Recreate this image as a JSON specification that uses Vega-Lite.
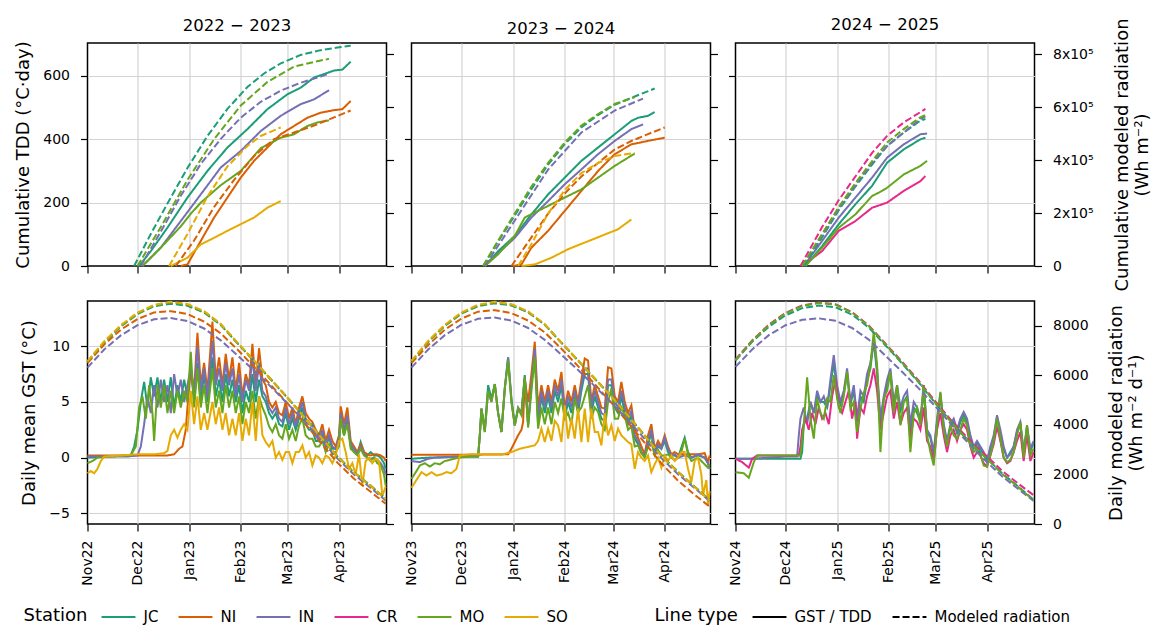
{
"$schema":"https://vega.github.io/schema/vega-lite/v6.json",
"background":"white",
"padding":{"left":12.5,"top":16,"right":0,"bottom":0},
"columns":3,
"spacing":{"row":35,"column":25},
"bounds":"flush",
"datasets":{
"g":[
{"p":1,"s":"JC","t":0,"v":0},{"p":1,"s":"JC","t":12,"v":0.1},{"p":1,"s":"JC","t":26,"v":0.2},{"p":1,"s":"JC","t":28,"v":1},{"p":1,"s":"JC","t":30,"v":2.5},{"p":1,"s":"JC","t":32,"v":5},{"p":1,"s":"JC","t":34,"v":6.8},{"p":1,"s":"JC","t":36,"v":4.5},{"p":1,"s":"JC","t":38,"v":7.2},{"p":1,"s":"JC","t":40,"v":5.5},{"p":1,"s":"JC","t":42,"v":7.2},{"p":1,"s":"JC","t":44,"v":5},{"p":1,"s":"JC","t":46,"v":7},{"p":1,"s":"JC","t":48,"v":5},{"p":1,"s":"JC","t":50,"v":7.2},{"p":1,"s":"JC","t":52,"v":4.5},{"p":1,"s":"JC","t":54,"v":6.5},{"p":1,"s":"JC","t":56,"v":5},{"p":1,"s":"JC","t":58,"v":7},{"p":1,"s":"JC","t":60,"v":5.5},{"p":1,"s":"JC","t":62,"v":8},{"p":1,"s":"JC","t":64,"v":5},{"p":1,"s":"JC","t":66,"v":8.5},{"p":1,"s":"JC","t":68,"v":5},{"p":1,"s":"JC","t":70,"v":7.5},{"p":1,"s":"JC","t":72,"v":5},{"p":1,"s":"JC","t":75,"v":9},{"p":1,"s":"JC","t":77,"v":5.5},{"p":1,"s":"JC","t":79,"v":7},{"p":1,"s":"JC","t":81,"v":5},{"p":1,"s":"JC","t":83,"v":7.5},{"p":1,"s":"JC","t":85,"v":5.5},{"p":1,"s":"JC","t":87,"v":7},{"p":1,"s":"JC","t":89,"v":5},{"p":1,"s":"JC","t":91,"v":6.5},{"p":1,"s":"JC","t":93,"v":4},{"p":1,"s":"JC","t":95,"v":6},{"p":1,"s":"JC","t":97,"v":5},{"p":1,"s":"JC","t":99,"v":7.5},{"p":1,"s":"JC","t":101,"v":5},{"p":1,"s":"JC","t":103,"v":7},{"p":1,"s":"JC","t":105,"v":5.5},{"p":1,"s":"JC","t":107,"v":5},{"p":1,"s":"JC","t":109,"v":4},{"p":1,"s":"JC","t":111,"v":3.5},{"p":1,"s":"JC","t":113,"v":4},{"p":1,"s":"JC","t":115,"v":3},{"p":1,"s":"JC","t":117,"v":2.8},{"p":1,"s":"JC","t":119,"v":4},{"p":1,"s":"JC","t":121,"v":2.5},{"p":1,"s":"JC","t":123,"v":3.5},{"p":1,"s":"JC","t":125,"v":2.5},{"p":1,"s":"JC","t":127,"v":3.5},{"p":1,"s":"JC","t":129,"v":4.5},{"p":1,"s":"JC","t":131,"v":3},{"p":1,"s":"JC","t":133,"v":2.5},{"p":1,"s":"JC","t":135,"v":2.5},{"p":1,"s":"JC","t":137,"v":1.5},{"p":1,"s":"JC","t":139,"v":1.5},{"p":1,"s":"JC","t":141,"v":2},{"p":1,"s":"JC","t":143,"v":1},{"p":1,"s":"JC","t":145,"v":1.8},{"p":1,"s":"JC","t":147,"v":0.8},{"p":1,"s":"JC","t":149,"v":0.8},{"p":1,"s":"JC","t":151,"v":1.5},{"p":1,"s":"JC","t":152,"v":3.5},{"p":1,"s":"JC","t":154,"v":2},{"p":1,"s":"JC","t":156,"v":3.5},{"p":1,"s":"JC","t":158,"v":1},{"p":1,"s":"JC","t":160,"v":0.5},{"p":1,"s":"JC","t":162,"v":0.3},{"p":1,"s":"JC","t":164,"v":1.4},{"p":1,"s":"JC","t":166,"v":0.5},{"p":1,"s":"JC","t":168,"v":0.2},{"p":1,"s":"JC","t":170,"v":0.5},{"p":1,"s":"JC","t":172,"v":0.2},{"p":1,"s":"JC","t":174,"v":0.2},{"p":1,"s":"JC","t":176,"v":0},{"p":1,"s":"JC","t":178,"v":-0.5},{"p":1,"s":"JC","t":179,"v":-1},
{"p":1,"s":"NI","t":0,"v":0.2},{"p":1,"s":"NI","t":12,"v":0.2},{"p":1,"s":"NI","t":24,"v":0.2},{"p":1,"s":"NI","t":36,"v":0.2},{"p":1,"s":"NI","t":48,"v":0.2},{"p":1,"s":"NI","t":52,"v":0.3},{"p":1,"s":"NI","t":55,"v":0.8},{"p":1,"s":"NI","t":57,"v":1},{"p":1,"s":"NI","t":59,"v":2.5},{"p":1,"s":"NI","t":60,"v":4.5},{"p":1,"s":"NI","t":62,"v":8},{"p":1,"s":"NI","t":64,"v":6},{"p":1,"s":"NI","t":66,"v":11.2},{"p":1,"s":"NI","t":68,"v":6.5},{"p":1,"s":"NI","t":70,"v":8.5},{"p":1,"s":"NI","t":72,"v":6},{"p":1,"s":"NI","t":75,"v":12.2},{"p":1,"s":"NI","t":77,"v":7},{"p":1,"s":"NI","t":79,"v":9},{"p":1,"s":"NI","t":81,"v":6.5},{"p":1,"s":"NI","t":83,"v":9.3},{"p":1,"s":"NI","t":85,"v":7},{"p":1,"s":"NI","t":87,"v":9},{"p":1,"s":"NI","t":89,"v":6},{"p":1,"s":"NI","t":91,"v":8.5},{"p":1,"s":"NI","t":93,"v":5.5},{"p":1,"s":"NI","t":95,"v":7.5},{"p":1,"s":"NI","t":97,"v":6.5},{"p":1,"s":"NI","t":99,"v":10.2},{"p":1,"s":"NI","t":101,"v":6.5},{"p":1,"s":"NI","t":103,"v":9.8},{"p":1,"s":"NI","t":105,"v":7},{"p":1,"s":"NI","t":107,"v":6.5},{"p":1,"s":"NI","t":109,"v":5},{"p":1,"s":"NI","t":111,"v":4.5},{"p":1,"s":"NI","t":113,"v":5},{"p":1,"s":"NI","t":115,"v":4},{"p":1,"s":"NI","t":117,"v":3.8},{"p":1,"s":"NI","t":119,"v":5},{"p":1,"s":"NI","t":121,"v":3.5},{"p":1,"s":"NI","t":123,"v":4.5},{"p":1,"s":"NI","t":125,"v":3},{"p":1,"s":"NI","t":127,"v":4.5},{"p":1,"s":"NI","t":129,"v":5.5},{"p":1,"s":"NI","t":131,"v":4},{"p":1,"s":"NI","t":133,"v":3.5},{"p":1,"s":"NI","t":135,"v":3.2},{"p":1,"s":"NI","t":137,"v":2.5},{"p":1,"s":"NI","t":139,"v":2},{"p":1,"s":"NI","t":141,"v":3},{"p":1,"s":"NI","t":143,"v":1.5},{"p":1,"s":"NI","t":145,"v":2.5},{"p":1,"s":"NI","t":147,"v":1.5},{"p":1,"s":"NI","t":149,"v":1},{"p":1,"s":"NI","t":151,"v":2},{"p":1,"s":"NI","t":152,"v":4.6},{"p":1,"s":"NI","t":154,"v":3},{"p":1,"s":"NI","t":156,"v":4.5},{"p":1,"s":"NI","t":158,"v":1.5},{"p":1,"s":"NI","t":160,"v":1},{"p":1,"s":"NI","t":162,"v":0.5},{"p":1,"s":"NI","t":164,"v":1.2},{"p":1,"s":"NI","t":166,"v":0.5},{"p":1,"s":"NI","t":168,"v":0.3},{"p":1,"s":"NI","t":170,"v":0.2},{"p":1,"s":"NI","t":172,"v":0.3},{"p":1,"s":"NI","t":174,"v":0.3},{"p":1,"s":"NI","t":176,"v":0.2},{"p":1,"s":"NI","t":178,"v":0},{"p":1,"s":"NI","t":179,"v":-0.3},
{"p":1,"s":"IN","t":0,"v":0.1},{"p":1,"s":"IN","t":12,"v":0.1},{"p":1,"s":"IN","t":24,"v":0.1},{"p":1,"s":"IN","t":30,"v":0.2},{"p":1,"s":"IN","t":32,"v":1},{"p":1,"s":"IN","t":34,"v":3},{"p":1,"s":"IN","t":36,"v":5.5},{"p":1,"s":"IN","t":38,"v":4},{"p":1,"s":"IN","t":40,"v":6.5},{"p":1,"s":"IN","t":42,"v":4.5},{"p":1,"s":"IN","t":44,"v":7},{"p":1,"s":"IN","t":46,"v":5},{"p":1,"s":"IN","t":48,"v":6.5},{"p":1,"s":"IN","t":50,"v":4},{"p":1,"s":"IN","t":52,"v":7.5},{"p":1,"s":"IN","t":54,"v":5.5},{"p":1,"s":"IN","t":56,"v":7},{"p":1,"s":"IN","t":58,"v":5},{"p":1,"s":"IN","t":60,"v":6.5},{"p":1,"s":"IN","t":62,"v":8},{"p":1,"s":"IN","t":64,"v":5.5},{"p":1,"s":"IN","t":66,"v":10},{"p":1,"s":"IN","t":68,"v":6},{"p":1,"s":"IN","t":70,"v":8},{"p":1,"s":"IN","t":72,"v":5.5},{"p":1,"s":"IN","t":75,"v":10.5},{"p":1,"s":"IN","t":77,"v":6.5},{"p":1,"s":"IN","t":79,"v":8},{"p":1,"s":"IN","t":81,"v":6},{"p":1,"s":"IN","t":83,"v":8.5},{"p":1,"s":"IN","t":85,"v":6.5},{"p":1,"s":"IN","t":87,"v":8},{"p":1,"s":"IN","t":89,"v":5.5},{"p":1,"s":"IN","t":91,"v":7.5},{"p":1,"s":"IN","t":93,"v":5},{"p":1,"s":"IN","t":95,"v":7},{"p":1,"s":"IN","t":97,"v":6},{"p":1,"s":"IN","t":99,"v":9},{"p":1,"s":"IN","t":101,"v":6},{"p":1,"s":"IN","t":103,"v":8.5},{"p":1,"s":"IN","t":105,"v":6},{"p":1,"s":"IN","t":107,"v":5.5},{"p":1,"s":"IN","t":109,"v":4.5},{"p":1,"s":"IN","t":111,"v":4},{"p":1,"s":"IN","t":113,"v":4.5},{"p":1,"s":"IN","t":115,"v":3.5},{"p":1,"s":"IN","t":117,"v":3.2},{"p":1,"s":"IN","t":119,"v":4.5},{"p":1,"s":"IN","t":121,"v":3},{"p":1,"s":"IN","t":123,"v":4},{"p":1,"s":"IN","t":125,"v":2.8},{"p":1,"s":"IN","t":127,"v":4},{"p":1,"s":"IN","t":129,"v":5},{"p":1,"s":"IN","t":131,"v":3.5},{"p":1,"s":"IN","t":133,"v":3},{"p":1,"s":"IN","t":135,"v":3},{"p":1,"s":"IN","t":137,"v":2},{"p":1,"s":"IN","t":139,"v":1.5},{"p":1,"s":"IN","t":141,"v":2.5},{"p":1,"s":"IN","t":143,"v":1},{"p":1,"s":"IN","t":145,"v":2},{"p":1,"s":"IN","t":147,"v":1},{"p":1,"s":"IN","t":149,"v":0.8},{"p":1,"s":"IN","t":151,"v":1.8},{"p":1,"s":"IN","t":152,"v":4},{"p":1,"s":"IN","t":154,"v":2.5},{"p":1,"s":"IN","t":156,"v":3.8},{"p":1,"s":"IN","t":158,"v":1.2},{"p":1,"s":"IN","t":160,"v":0.8},{"p":1,"s":"IN","t":162,"v":0.3},{"p":1,"s":"IN","t":164,"v":1},{"p":1,"s":"IN","t":166,"v":0.3},{"p":1,"s":"IN","t":168,"v":0},{"p":1,"s":"IN","t":170,"v":-0.1},{"p":1,"s":"IN","t":172,"v":0},{"p":1,"s":"IN","t":174,"v":-0.2},{"p":1,"s":"IN","t":176,"v":-0.5},{"p":1,"s":"IN","t":178,"v":-1},{"p":1,"s":"IN","t":179,"v":-1.5},
{"p":1,"s":"MO","t":0,"v":-0.5},{"p":1,"s":"MO","t":3,"v":-0.3},{"p":1,"s":"MO","t":6,"v":0},{"p":1,"s":"MO","t":12,"v":0.1},{"p":1,"s":"MO","t":26,"v":0.2},{"p":1,"s":"MO","t":29,"v":1},{"p":1,"s":"MO","t":31,"v":4.5},{"p":1,"s":"MO","t":33,"v":5.5},{"p":1,"s":"MO","t":35,"v":3.5},{"p":1,"s":"MO","t":37,"v":6.5},{"p":1,"s":"MO","t":39,"v":4},{"p":1,"s":"MO","t":40,"v":1.5},{"p":1,"s":"MO","t":42,"v":6.5},{"p":1,"s":"MO","t":44,"v":4.5},{"p":1,"s":"MO","t":46,"v":6.5},{"p":1,"s":"MO","t":48,"v":4},{"p":1,"s":"MO","t":50,"v":6},{"p":1,"s":"MO","t":52,"v":4},{"p":1,"s":"MO","t":54,"v":6},{"p":1,"s":"MO","t":56,"v":4.5},{"p":1,"s":"MO","t":58,"v":6},{"p":1,"s":"MO","t":60,"v":5},{"p":1,"s":"MO","t":62,"v":9.5},{"p":1,"s":"MO","t":64,"v":4.5},{"p":1,"s":"MO","t":66,"v":8},{"p":1,"s":"MO","t":68,"v":4.5},{"p":1,"s":"MO","t":70,"v":6.5},{"p":1,"s":"MO","t":72,"v":4},{"p":1,"s":"MO","t":75,"v":8},{"p":1,"s":"MO","t":77,"v":4.5},{"p":1,"s":"MO","t":79,"v":6},{"p":1,"s":"MO","t":81,"v":4},{"p":1,"s":"MO","t":83,"v":6.5},{"p":1,"s":"MO","t":85,"v":4.5},{"p":1,"s":"MO","t":87,"v":6},{"p":1,"s":"MO","t":89,"v":4},{"p":1,"s":"MO","t":91,"v":5.5},{"p":1,"s":"MO","t":93,"v":3},{"p":1,"s":"MO","t":95,"v":5},{"p":1,"s":"MO","t":97,"v":4},{"p":1,"s":"MO","t":99,"v":6},{"p":1,"s":"MO","t":101,"v":3.5},{"p":1,"s":"MO","t":103,"v":5.5},{"p":1,"s":"MO","t":105,"v":4.5},{"p":1,"s":"MO","t":107,"v":3.8},{"p":1,"s":"MO","t":109,"v":2.8},{"p":1,"s":"MO","t":111,"v":2.3},{"p":1,"s":"MO","t":113,"v":3},{"p":1,"s":"MO","t":115,"v":2},{"p":1,"s":"MO","t":117,"v":1.7},{"p":1,"s":"MO","t":119,"v":3},{"p":1,"s":"MO","t":121,"v":1.7},{"p":1,"s":"MO","t":123,"v":2.5},{"p":1,"s":"MO","t":125,"v":1.5},{"p":1,"s":"MO","t":127,"v":2.9},{"p":1,"s":"MO","t":129,"v":3.5},{"p":1,"s":"MO","t":131,"v":2},{"p":1,"s":"MO","t":133,"v":1.7},{"p":1,"s":"MO","t":135,"v":1.7},{"p":1,"s":"MO","t":137,"v":1},{"p":1,"s":"MO","t":139,"v":1},{"p":1,"s":"MO","t":141,"v":1.5},{"p":1,"s":"MO","t":143,"v":0.5},{"p":1,"s":"MO","t":145,"v":1.2},{"p":1,"s":"MO","t":147,"v":0.3},{"p":1,"s":"MO","t":149,"v":0.5},{"p":1,"s":"MO","t":151,"v":1},{"p":1,"s":"MO","t":152,"v":3.5},{"p":1,"s":"MO","t":154,"v":2},{"p":1,"s":"MO","t":156,"v":3},{"p":1,"s":"MO","t":158,"v":0.8},{"p":1,"s":"MO","t":160,"v":0.5},{"p":1,"s":"MO","t":162,"v":0.2},{"p":1,"s":"MO","t":164,"v":0.8},{"p":1,"s":"MO","t":166,"v":0.2},{"p":1,"s":"MO","t":168,"v":0},{"p":1,"s":"MO","t":170,"v":-0.3},{"p":1,"s":"MO","t":172,"v":0},{"p":1,"s":"MO","t":174,"v":-0.5},{"p":1,"s":"MO","t":176,"v":-0.7},{"p":1,"s":"MO","t":178,"v":-1.5},{"p":1,"s":"MO","t":179,"v":-2.5},
{"p":1,"s":"SO","t":0,"v":-1.4},{"p":1,"s":"SO","t":2,"v":-1.2},{"p":1,"s":"SO","t":4,"v":-1.4},{"p":1,"s":"SO","t":6,"v":-1},{"p":1,"s":"SO","t":8,"v":-0.3},{"p":1,"s":"SO","t":10,"v":0.1},{"p":1,"s":"SO","t":20,"v":0.2},{"p":1,"s":"SO","t":30,"v":0.3},{"p":1,"s":"SO","t":40,"v":0.3},{"p":1,"s":"SO","t":46,"v":0.4},{"p":1,"s":"SO","t":48,"v":0.6},{"p":1,"s":"SO","t":50,"v":2},{"p":1,"s":"SO","t":52,"v":2.5},{"p":1,"s":"SO","t":54,"v":1.8},{"p":1,"s":"SO","t":56,"v":2.5},{"p":1,"s":"SO","t":58,"v":3},{"p":1,"s":"SO","t":60,"v":2.5},{"p":1,"s":"SO","t":62,"v":6},{"p":1,"s":"SO","t":64,"v":3},{"p":1,"s":"SO","t":66,"v":5.5},{"p":1,"s":"SO","t":68,"v":2.5},{"p":1,"s":"SO","t":70,"v":4},{"p":1,"s":"SO","t":72,"v":2.5},{"p":1,"s":"SO","t":75,"v":5},{"p":1,"s":"SO","t":77,"v":3},{"p":1,"s":"SO","t":79,"v":4.5},{"p":1,"s":"SO","t":81,"v":2.5},{"p":1,"s":"SO","t":83,"v":4},{"p":1,"s":"SO","t":85,"v":2},{"p":1,"s":"SO","t":87,"v":3.5},{"p":1,"s":"SO","t":89,"v":2},{"p":1,"s":"SO","t":91,"v":4},{"p":1,"s":"SO","t":93,"v":1.5},{"p":1,"s":"SO","t":95,"v":3.5},{"p":1,"s":"SO","t":97,"v":2},{"p":1,"s":"SO","t":99,"v":5},{"p":1,"s":"SO","t":101,"v":1.5},{"p":1,"s":"SO","t":103,"v":5.5},{"p":1,"s":"SO","t":105,"v":2},{"p":1,"s":"SO","t":107,"v":1.4},{"p":1,"s":"SO","t":109,"v":1},{"p":1,"s":"SO","t":111,"v":1.5},{"p":1,"s":"SO","t":113,"v":0},{"p":1,"s":"SO","t":115,"v":0.5},{"p":1,"s":"SO","t":117,"v":-0.2},{"p":1,"s":"SO","t":119,"v":0.5},{"p":1,"s":"SO","t":121,"v":0.5},{"p":1,"s":"SO","t":123,"v":-0.5},{"p":1,"s":"SO","t":125,"v":0.5},{"p":1,"s":"SO","t":127,"v":0.5},{"p":1,"s":"SO","t":129,"v":1.1},{"p":1,"s":"SO","t":131,"v":0},{"p":1,"s":"SO","t":133,"v":0.5},{"p":1,"s":"SO","t":135,"v":-0.7},{"p":1,"s":"SO","t":137,"v":0.2},{"p":1,"s":"SO","t":139,"v":0},{"p":1,"s":"SO","t":141,"v":-0.5},{"p":1,"s":"SO","t":143,"v":0.2},{"p":1,"s":"SO","t":145,"v":0},{"p":1,"s":"SO","t":147,"v":-0.5},{"p":1,"s":"SO","t":149,"v":0.2},{"p":1,"s":"SO","t":151,"v":1.5},{"p":1,"s":"SO","t":153,"v":1.7},{"p":1,"s":"SO","t":155,"v":0.5},{"p":1,"s":"SO","t":157,"v":-1},{"p":1,"s":"SO","t":159,"v":-0.5},{"p":1,"s":"SO","t":161,"v":-1.5},{"p":1,"s":"SO","t":163,"v":0.3},{"p":1,"s":"SO","t":165,"v":-2.5},{"p":1,"s":"SO","t":167,"v":-0.3},{"p":1,"s":"SO","t":169,"v":0},{"p":1,"s":"SO","t":171,"v":-0.5},{"p":1,"s":"SO","t":173,"v":-0.1},{"p":1,"s":"SO","t":175,"v":-0.3},{"p":1,"s":"SO","t":177,"v":-3.4},{"p":1,"s":"SO","t":179,"v":-2.6},
{"p":2,"s":"JC","t":0,"v":-0.1},{"p":2,"s":"JC","t":10,"v":0},{"p":2,"s":"JC","t":30,"v":0.1},{"p":2,"s":"JC","t":40,"v":0.1},{"p":2,"s":"JC","t":41,"v":2},{"p":2,"s":"JC","t":42,"v":4.4},{"p":2,"s":"JC","t":44,"v":2.5},{"p":2,"s":"JC","t":46,"v":6.5},{"p":2,"s":"JC","t":48,"v":5.3},{"p":2,"s":"JC","t":50,"v":6.6},{"p":2,"s":"JC","t":52,"v":4},{"p":2,"s":"JC","t":54,"v":2.3},{"p":2,"s":"JC","t":56,"v":6.2},{"p":2,"s":"JC","t":58,"v":9},{"p":2,"s":"JC","t":60,"v":5.3},{"p":2,"s":"JC","t":62,"v":2.9},{"p":2,"s":"JC","t":64,"v":4.4},{"p":2,"s":"JC","t":66,"v":4},{"p":2,"s":"JC","t":68,"v":7.4},{"p":2,"s":"JC","t":70,"v":2.9},{"p":2,"s":"JC","t":72,"v":6.6},{"p":2,"s":"JC","t":74,"v":9.5},{"p":2,"s":"JC","t":76,"v":2.9},{"p":2,"s":"JC","t":78,"v":5.5},{"p":2,"s":"JC","t":80,"v":4},{"p":2,"s":"JC","t":82,"v":5.5},{"p":2,"s":"JC","t":84,"v":4},{"p":2,"s":"JC","t":86,"v":6},{"p":2,"s":"JC","t":88,"v":5},{"p":2,"s":"JC","t":90,"v":6.5},{"p":2,"s":"JC","t":92,"v":3.5},{"p":2,"s":"JC","t":94,"v":5},{"p":2,"s":"JC","t":96,"v":4},{"p":2,"s":"JC","t":98,"v":5.5},{"p":2,"s":"JC","t":100,"v":4},{"p":2,"s":"JC","t":102,"v":6},{"p":2,"s":"JC","t":104,"v":7.5},{"p":2,"s":"JC","t":106,"v":7.5},{"p":2,"s":"JC","t":108,"v":4},{"p":2,"s":"JC","t":110,"v":5.5},{"p":2,"s":"JC","t":112,"v":4.5},{"p":2,"s":"JC","t":114,"v":3.5},{"p":2,"s":"JC","t":116,"v":3.3},{"p":2,"s":"JC","t":118,"v":6.5},{"p":2,"s":"JC","t":120,"v":6.5},{"p":2,"s":"JC","t":122,"v":4.5},{"p":2,"s":"JC","t":124,"v":4},{"p":2,"s":"JC","t":126,"v":5.5},{"p":2,"s":"JC","t":128,"v":4},{"p":2,"s":"JC","t":130,"v":3},{"p":2,"s":"JC","t":132,"v":3.8},{"p":2,"s":"JC","t":134,"v":1.7},{"p":2,"s":"JC","t":136,"v":1.2},{"p":2,"s":"JC","t":138,"v":0.4},{"p":2,"s":"JC","t":140,"v":0.2},{"p":2,"s":"JC","t":142,"v":1.2},{"p":2,"s":"JC","t":144,"v":2.2},{"p":2,"s":"JC","t":146,"v":0.4},{"p":2,"s":"JC","t":148,"v":1},{"p":2,"s":"JC","t":150,"v":0.8},{"p":2,"s":"JC","t":152,"v":1.5},{"p":2,"s":"JC","t":154,"v":0.5},{"p":2,"s":"JC","t":156,"v":0.2},{"p":2,"s":"JC","t":158,"v":0.2},{"p":2,"s":"JC","t":160,"v":0},{"p":2,"s":"JC","t":164,"v":1.8},{"p":2,"s":"JC","t":166,"v":0.5},{"p":2,"s":"JC","t":168,"v":0},{"p":2,"s":"JC","t":172,"v":0.2},{"p":2,"s":"JC","t":176,"v":0},{"p":2,"s":"JC","t":178,"v":-0.5},{"p":2,"s":"JC","t":179,"v":-1},
{"p":2,"s":"NI","t":0,"v":0.25},{"p":2,"s":"NI","t":30,"v":0.25},{"p":2,"s":"NI","t":58,"v":0.3},{"p":2,"s":"NI","t":60,"v":0.8},{"p":2,"s":"NI","t":62,"v":1.4},{"p":2,"s":"NI","t":64,"v":2},{"p":2,"s":"NI","t":66,"v":2.5},{"p":2,"s":"NI","t":67,"v":3.2},{"p":2,"s":"NI","t":68,"v":7},{"p":2,"s":"NI","t":70,"v":5},{"p":2,"s":"NI","t":72,"v":7.5},{"p":2,"s":"NI","t":74,"v":10.4},{"p":2,"s":"NI","t":76,"v":4.5},{"p":2,"s":"NI","t":78,"v":6.5},{"p":2,"s":"NI","t":80,"v":5},{"p":2,"s":"NI","t":82,"v":6.5},{"p":2,"s":"NI","t":84,"v":5},{"p":2,"s":"NI","t":86,"v":7},{"p":2,"s":"NI","t":88,"v":6},{"p":2,"s":"NI","t":90,"v":7.7},{"p":2,"s":"NI","t":92,"v":4.4},{"p":2,"s":"NI","t":94,"v":6},{"p":2,"s":"NI","t":96,"v":5},{"p":2,"s":"NI","t":98,"v":6.5},{"p":2,"s":"NI","t":100,"v":5},{"p":2,"s":"NI","t":102,"v":7},{"p":2,"s":"NI","t":104,"v":8.9},{"p":2,"s":"NI","t":106,"v":8.7},{"p":2,"s":"NI","t":108,"v":5},{"p":2,"s":"NI","t":110,"v":6.5},{"p":2,"s":"NI","t":112,"v":5.5},{"p":2,"s":"NI","t":114,"v":4.5},{"p":2,"s":"NI","t":116,"v":4.4},{"p":2,"s":"NI","t":118,"v":8.1},{"p":2,"s":"NI","t":120,"v":8},{"p":2,"s":"NI","t":122,"v":5.5},{"p":2,"s":"NI","t":124,"v":5},{"p":2,"s":"NI","t":126,"v":6.8},{"p":2,"s":"NI","t":128,"v":5},{"p":2,"s":"NI","t":130,"v":4},{"p":2,"s":"NI","t":132,"v":4.7},{"p":2,"s":"NI","t":134,"v":2.5},{"p":2,"s":"NI","t":136,"v":1.8},{"p":2,"s":"NI","t":138,"v":1},{"p":2,"s":"NI","t":140,"v":0.3},{"p":2,"s":"NI","t":142,"v":2},{"p":2,"s":"NI","t":144,"v":3},{"p":2,"s":"NI","t":146,"v":0.8},{"p":2,"s":"NI","t":148,"v":1.5},{"p":2,"s":"NI","t":150,"v":1},{"p":2,"s":"NI","t":152,"v":2},{"p":2,"s":"NI","t":154,"v":1},{"p":2,"s":"NI","t":156,"v":0.3},{"p":2,"s":"NI","t":158,"v":0.5},{"p":2,"s":"NI","t":160,"v":0.3},{"p":2,"s":"NI","t":164,"v":0.3},{"p":2,"s":"NI","t":168,"v":0.3},{"p":2,"s":"NI","t":172,"v":0.3},{"p":2,"s":"NI","t":176,"v":0.4},{"p":2,"s":"NI","t":178,"v":-0.4},{"p":2,"s":"NI","t":179,"v":0.2},
{"p":2,"s":"IN","t":0,"v":-0.3},{"p":2,"s":"IN","t":5,"v":-0.4},{"p":2,"s":"IN","t":10,"v":-0.1},{"p":2,"s":"IN","t":14,"v":0},{"p":2,"s":"IN","t":30,"v":0.1},{"p":2,"s":"IN","t":40,"v":0.1},{"p":2,"s":"IN","t":41,"v":2},{"p":2,"s":"IN","t":42,"v":4.4},{"p":2,"s":"IN","t":44,"v":2.3},{"p":2,"s":"IN","t":46,"v":6},{"p":2,"s":"IN","t":48,"v":5},{"p":2,"s":"IN","t":50,"v":6.6},{"p":2,"s":"IN","t":52,"v":4},{"p":2,"s":"IN","t":54,"v":2.3},{"p":2,"s":"IN","t":56,"v":6.2},{"p":2,"s":"IN","t":58,"v":9},{"p":2,"s":"IN","t":60,"v":5},{"p":2,"s":"IN","t":62,"v":2.9},{"p":2,"s":"IN","t":64,"v":4.5},{"p":2,"s":"IN","t":66,"v":4},{"p":2,"s":"IN","t":68,"v":7.2},{"p":2,"s":"IN","t":70,"v":3},{"p":2,"s":"IN","t":72,"v":6.5},{"p":2,"s":"IN","t":74,"v":9.8},{"p":2,"s":"IN","t":76,"v":3.5},{"p":2,"s":"IN","t":78,"v":6},{"p":2,"s":"IN","t":80,"v":4.5},{"p":2,"s":"IN","t":82,"v":6},{"p":2,"s":"IN","t":84,"v":4.5},{"p":2,"s":"IN","t":86,"v":6.5},{"p":2,"s":"IN","t":88,"v":5.5},{"p":2,"s":"IN","t":90,"v":7},{"p":2,"s":"IN","t":92,"v":4},{"p":2,"s":"IN","t":94,"v":5.5},{"p":2,"s":"IN","t":96,"v":4.5},{"p":2,"s":"IN","t":98,"v":6},{"p":2,"s":"IN","t":100,"v":4.5},{"p":2,"s":"IN","t":102,"v":6.5},{"p":2,"s":"IN","t":104,"v":8},{"p":2,"s":"IN","t":106,"v":8},{"p":2,"s":"IN","t":108,"v":4.5},{"p":2,"s":"IN","t":110,"v":6},{"p":2,"s":"IN","t":112,"v":5},{"p":2,"s":"IN","t":114,"v":4},{"p":2,"s":"IN","t":116,"v":3.8},{"p":2,"s":"IN","t":118,"v":7},{"p":2,"s":"IN","t":120,"v":7},{"p":2,"s":"IN","t":122,"v":5},{"p":2,"s":"IN","t":124,"v":4.5},{"p":2,"s":"IN","t":126,"v":6},{"p":2,"s":"IN","t":128,"v":4.5},{"p":2,"s":"IN","t":130,"v":3.5},{"p":2,"s":"IN","t":132,"v":4.2},{"p":2,"s":"IN","t":134,"v":2},{"p":2,"s":"IN","t":136,"v":1.5},{"p":2,"s":"IN","t":138,"v":0.5},{"p":2,"s":"IN","t":140,"v":0.2},{"p":2,"s":"IN","t":142,"v":1.5},{"p":2,"s":"IN","t":144,"v":2.5},{"p":2,"s":"IN","t":146,"v":0.5},{"p":2,"s":"IN","t":148,"v":1.2},{"p":2,"s":"IN","t":150,"v":0.8},{"p":2,"s":"IN","t":152,"v":1.8},{"p":2,"s":"IN","t":154,"v":0.8},{"p":2,"s":"IN","t":156,"v":0.2},{"p":2,"s":"IN","t":158,"v":0.3},{"p":2,"s":"IN","t":160,"v":0},{"p":2,"s":"IN","t":164,"v":0.2},{"p":2,"s":"IN","t":168,"v":0},{"p":2,"s":"IN","t":172,"v":0.3},{"p":2,"s":"IN","t":176,"v":0},{"p":2,"s":"IN","t":178,"v":-0.5},{"p":2,"s":"IN","t":179,"v":-1},
{"p":2,"s":"MO","t":0,"v":-1.9},{"p":2,"s":"MO","t":3,"v":-1.2},{"p":2,"s":"MO","t":5,"v":-0.7},{"p":2,"s":"MO","t":8,"v":-0.5},{"p":2,"s":"MO","t":11,"v":-0.8},{"p":2,"s":"MO","t":14,"v":-0.5},{"p":2,"s":"MO","t":17,"v":-0.6},{"p":2,"s":"MO","t":20,"v":-0.3},{"p":2,"s":"MO","t":23,"v":-0.2},{"p":2,"s":"MO","t":28,"v":0},{"p":2,"s":"MO","t":35,"v":0.1},{"p":2,"s":"MO","t":40,"v":0.1},{"p":2,"s":"MO","t":41,"v":2},{"p":2,"s":"MO","t":42,"v":4.4},{"p":2,"s":"MO","t":44,"v":2.3},{"p":2,"s":"MO","t":46,"v":6},{"p":2,"s":"MO","t":48,"v":5},{"p":2,"s":"MO","t":50,"v":6.6},{"p":2,"s":"MO","t":52,"v":4},{"p":2,"s":"MO","t":54,"v":2.3},{"p":2,"s":"MO","t":56,"v":6.2},{"p":2,"s":"MO","t":58,"v":8.7},{"p":2,"s":"MO","t":60,"v":5},{"p":2,"s":"MO","t":62,"v":2.9},{"p":2,"s":"MO","t":64,"v":4.4},{"p":2,"s":"MO","t":66,"v":3.8},{"p":2,"s":"MO","t":68,"v":7.2},{"p":2,"s":"MO","t":70,"v":2.7},{"p":2,"s":"MO","t":72,"v":6},{"p":2,"s":"MO","t":74,"v":9},{"p":2,"s":"MO","t":76,"v":2.6},{"p":2,"s":"MO","t":78,"v":4.5},{"p":2,"s":"MO","t":80,"v":3},{"p":2,"s":"MO","t":82,"v":4.5},{"p":2,"s":"MO","t":84,"v":3},{"p":2,"s":"MO","t":86,"v":5},{"p":2,"s":"MO","t":88,"v":4},{"p":2,"s":"MO","t":90,"v":5.3},{"p":2,"s":"MO","t":92,"v":3.5},{"p":2,"s":"MO","t":94,"v":4},{"p":2,"s":"MO","t":96,"v":3},{"p":2,"s":"MO","t":98,"v":5.3},{"p":2,"s":"MO","t":100,"v":4.1},{"p":2,"s":"MO","t":102,"v":4.5},{"p":2,"s":"MO","t":104,"v":5.5},{"p":2,"s":"MO","t":106,"v":6.5},{"p":2,"s":"MO","t":108,"v":3.5},{"p":2,"s":"MO","t":110,"v":4.5},{"p":2,"s":"MO","t":112,"v":4.1},{"p":2,"s":"MO","t":114,"v":3},{"p":2,"s":"MO","t":116,"v":2.5},{"p":2,"s":"MO","t":118,"v":5},{"p":2,"s":"MO","t":120,"v":6.2},{"p":2,"s":"MO","t":122,"v":3.5},{"p":2,"s":"MO","t":124,"v":3.5},{"p":2,"s":"MO","t":126,"v":4.5},{"p":2,"s":"MO","t":128,"v":3.8},{"p":2,"s":"MO","t":130,"v":2.5},{"p":2,"s":"MO","t":132,"v":2.8},{"p":2,"s":"MO","t":134,"v":1},{"p":2,"s":"MO","t":136,"v":1.1},{"p":2,"s":"MO","t":138,"v":0.4},{"p":2,"s":"MO","t":140,"v":0},{"p":2,"s":"MO","t":142,"v":1},{"p":2,"s":"MO","t":144,"v":1.4},{"p":2,"s":"MO","t":146,"v":0.2},{"p":2,"s":"MO","t":148,"v":0.7},{"p":2,"s":"MO","t":150,"v":0.2},{"p":2,"s":"MO","t":152,"v":0.2},{"p":2,"s":"MO","t":154,"v":0.3},{"p":2,"s":"MO","t":156,"v":0},{"p":2,"s":"MO","t":158,"v":-0.2},{"p":2,"s":"MO","t":160,"v":0},{"p":2,"s":"MO","t":162,"v":0.5},{"p":2,"s":"MO","t":164,"v":1.7},{"p":2,"s":"MO","t":166,"v":0.3},{"p":2,"s":"MO","t":168,"v":-0.3},{"p":2,"s":"MO","t":172,"v":0},{"p":2,"s":"MO","t":176,"v":-0.6},{"p":2,"s":"MO","t":178,"v":-0.9},{"p":2,"s":"MO","t":179,"v":-0.6},
{"p":2,"s":"SO","t":0,"v":-2.7},{"p":2,"s":"SO","t":3,"v":-2},{"p":2,"s":"SO","t":6,"v":-1.3},{"p":2,"s":"SO","t":9,"v":-1.6},{"p":2,"s":"SO","t":12,"v":-1.3},{"p":2,"s":"SO","t":15,"v":-1.6},{"p":2,"s":"SO","t":18,"v":-1.5},{"p":2,"s":"SO","t":21,"v":-1.3},{"p":2,"s":"SO","t":24,"v":-1.4},{"p":2,"s":"SO","t":27,"v":-1},{"p":2,"s":"SO","t":29,"v":0.2},{"p":2,"s":"SO","t":35,"v":0.3},{"p":2,"s":"SO","t":45,"v":0.3},{"p":2,"s":"SO","t":55,"v":0.3},{"p":2,"s":"SO","t":60,"v":0.5},{"p":2,"s":"SO","t":65,"v":0.8},{"p":2,"s":"SO","t":68,"v":0.9},{"p":2,"s":"SO","t":71,"v":1},{"p":2,"s":"SO","t":74,"v":1.1},{"p":2,"s":"SO","t":76,"v":1.5},{"p":2,"s":"SO","t":78,"v":2.6},{"p":2,"s":"SO","t":80,"v":1.4},{"p":2,"s":"SO","t":82,"v":2.6},{"p":2,"s":"SO","t":84,"v":1.5},{"p":2,"s":"SO","t":86,"v":3.3},{"p":2,"s":"SO","t":88,"v":2.9},{"p":2,"s":"SO","t":90,"v":1.4},{"p":2,"s":"SO","t":92,"v":4.7},{"p":2,"s":"SO","t":94,"v":1.7},{"p":2,"s":"SO","t":96,"v":3.5},{"p":2,"s":"SO","t":98,"v":1.7},{"p":2,"s":"SO","t":100,"v":4.4},{"p":2,"s":"SO","t":102,"v":1.4},{"p":2,"s":"SO","t":104,"v":4.4},{"p":2,"s":"SO","t":106,"v":1.4},{"p":2,"s":"SO","t":108,"v":4.4},{"p":2,"s":"SO","t":110,"v":2.3},{"p":2,"s":"SO","t":112,"v":2.3},{"p":2,"s":"SO","t":114,"v":1.1},{"p":2,"s":"SO","t":116,"v":4},{"p":2,"s":"SO","t":118,"v":2},{"p":2,"s":"SO","t":120,"v":2.9},{"p":2,"s":"SO","t":122,"v":1.5},{"p":2,"s":"SO","t":124,"v":2.6},{"p":2,"s":"SO","t":126,"v":2},{"p":2,"s":"SO","t":128,"v":1.7},{"p":2,"s":"SO","t":130,"v":1.4},{"p":2,"s":"SO","t":132,"v":1.2},{"p":2,"s":"SO","t":134,"v":-1},{"p":2,"s":"SO","t":136,"v":0.5},{"p":2,"s":"SO","t":138,"v":0},{"p":2,"s":"SO","t":140,"v":-0.3},{"p":2,"s":"SO","t":142,"v":0.2},{"p":2,"s":"SO","t":144,"v":-1.3},{"p":2,"s":"SO","t":146,"v":-0.6},{"p":2,"s":"SO","t":148,"v":0},{"p":2,"s":"SO","t":150,"v":-0.9},{"p":2,"s":"SO","t":152,"v":0.2},{"p":2,"s":"SO","t":154,"v":-0.3},{"p":2,"s":"SO","t":156,"v":0.2},{"p":2,"s":"SO","t":158,"v":-0.3},{"p":2,"s":"SO","t":160,"v":0},{"p":2,"s":"SO","t":162,"v":0.5},{"p":2,"s":"SO","t":164,"v":0.5},{"p":2,"s":"SO","t":166,"v":-1},{"p":2,"s":"SO","t":168,"v":-2.2},{"p":2,"s":"SO","t":170,"v":-0.3},{"p":2,"s":"SO","t":172,"v":0},{"p":2,"s":"SO","t":174,"v":-1.5},{"p":2,"s":"SO","t":175,"v":-3.4},{"p":2,"s":"SO","t":177,"v":-2},{"p":2,"s":"SO","t":178,"v":-4.3},{"p":2,"s":"SO","t":179,"v":-3},
{"p":3,"s":"JC","t":0,"v":-0.1},{"p":3,"s":"JC","t":39,"v":-0.1},{"p":3,"s":"JC","t":40,"v":0.5},{"p":3,"s":"JC","t":41,"v":3},{"p":3,"s":"JC","t":43,"v":3.5},{"p":3,"s":"JC","t":45,"v":5},{"p":3,"s":"JC","t":47,"v":4},{"p":3,"s":"JC","t":49,"v":5.5},{"p":3,"s":"JC","t":51,"v":5},{"p":3,"s":"JC","t":53,"v":5},{"p":3,"s":"JC","t":55,"v":4.5},{"p":3,"s":"JC","t":57,"v":6.5},{"p":3,"s":"JC","t":59,"v":8.5},{"p":3,"s":"JC","t":61,"v":6},{"p":3,"s":"JC","t":63,"v":4.8},{"p":3,"s":"JC","t":65,"v":5.8},{"p":3,"s":"JC","t":67,"v":7.5},{"p":3,"s":"JC","t":69,"v":4.8},{"p":3,"s":"JC","t":71,"v":6},{"p":3,"s":"JC","t":73,"v":3.2},{"p":3,"s":"JC","t":75,"v":5.5},{"p":3,"s":"JC","t":77,"v":5},{"p":3,"s":"JC","t":79,"v":7},{"p":3,"s":"JC","t":81,"v":8},{"p":3,"s":"JC","t":83,"v":10.5},{"p":3,"s":"JC","t":85,"v":7.5},{"p":3,"s":"JC","t":87,"v":3},{"p":3,"s":"JC","t":89,"v":5.2},{"p":3,"s":"JC","t":91,"v":6.5},{"p":3,"s":"JC","t":93,"v":7.5},{"p":3,"s":"JC","t":95,"v":4.5},{"p":3,"s":"JC","t":97,"v":6},{"p":3,"s":"JC","t":99,"v":4.2},{"p":3,"s":"JC","t":101,"v":5},{"p":3,"s":"JC","t":103,"v":5.5},{"p":3,"s":"JC","t":105,"v":2.5},{"p":3,"s":"JC","t":107,"v":4.5},{"p":3,"s":"JC","t":109,"v":4},{"p":3,"s":"JC","t":111,"v":3.2},{"p":3,"s":"JC","t":113,"v":6},{"p":3,"s":"JC","t":115,"v":2.2},{"p":3,"s":"JC","t":117,"v":1.8},{"p":3,"s":"JC","t":119,"v":0.3},{"p":3,"s":"JC","t":121,"v":3.2},{"p":3,"s":"JC","t":123,"v":5.5},{"p":3,"s":"JC","t":125,"v":2.8},{"p":3,"s":"JC","t":127,"v":1.2},{"p":3,"s":"JC","t":129,"v":2.8},{"p":3,"s":"JC","t":131,"v":3.3},{"p":3,"s":"JC","t":133,"v":2.2},{"p":3,"s":"JC","t":135,"v":3.2},{"p":3,"s":"JC","t":137,"v":3.8},{"p":3,"s":"JC","t":139,"v":3.2},{"p":3,"s":"JC","t":141,"v":1.8},{"p":3,"s":"JC","t":143,"v":0.8},{"p":3,"s":"JC","t":145,"v":1.3},{"p":3,"s":"JC","t":147,"v":0.8},{"p":3,"s":"JC","t":149,"v":0.3},{"p":3,"s":"JC","t":151,"v":-0.4},{"p":3,"s":"JC","t":153,"v":0.8},{"p":3,"s":"JC","t":155,"v":1.8},{"p":3,"s":"JC","t":157,"v":3.6},{"p":3,"s":"JC","t":159,"v":2.2},{"p":3,"s":"JC","t":161,"v":0.8},{"p":3,"s":"JC","t":163,"v":0},{"p":3,"s":"JC","t":165,"v":0.5},{"p":3,"s":"JC","t":167,"v":1},{"p":3,"s":"JC","t":169,"v":2.3},{"p":3,"s":"JC","t":171,"v":3},{"p":3,"s":"JC","t":173,"v":0.5},{"p":3,"s":"JC","t":175,"v":2.7},{"p":3,"s":"JC","t":177,"v":0.6},{"p":3,"s":"JC","t":179,"v":1.3},
{"p":3,"s":"IN","t":0,"v":-0.1},{"p":3,"s":"IN","t":10,"v":-0.1},{"p":3,"s":"IN","t":20,"v":0},{"p":3,"s":"IN","t":30,"v":0.1},{"p":3,"s":"IN","t":37,"v":0.1},{"p":3,"s":"IN","t":38,"v":2},{"p":3,"s":"IN","t":39,"v":3.5},{"p":3,"s":"IN","t":41,"v":4.5},{"p":3,"s":"IN","t":43,"v":3},{"p":3,"s":"IN","t":45,"v":5},{"p":3,"s":"IN","t":47,"v":4},{"p":3,"s":"IN","t":49,"v":6},{"p":3,"s":"IN","t":51,"v":5},{"p":3,"s":"IN","t":53,"v":5.5},{"p":3,"s":"IN","t":55,"v":4.5},{"p":3,"s":"IN","t":57,"v":7},{"p":3,"s":"IN","t":59,"v":9.2},{"p":3,"s":"IN","t":61,"v":6.5},{"p":3,"s":"IN","t":63,"v":5},{"p":3,"s":"IN","t":65,"v":6},{"p":3,"s":"IN","t":67,"v":8},{"p":3,"s":"IN","t":69,"v":5},{"p":3,"s":"IN","t":71,"v":6.5},{"p":3,"s":"IN","t":73,"v":3.5},{"p":3,"s":"IN","t":75,"v":6},{"p":3,"s":"IN","t":77,"v":5.5},{"p":3,"s":"IN","t":79,"v":7.5},{"p":3,"s":"IN","t":81,"v":8.5},{"p":3,"s":"IN","t":83,"v":10.5},{"p":3,"s":"IN","t":85,"v":8},{"p":3,"s":"IN","t":87,"v":3.5},{"p":3,"s":"IN","t":89,"v":5.5},{"p":3,"s":"IN","t":91,"v":7},{"p":3,"s":"IN","t":93,"v":8},{"p":3,"s":"IN","t":95,"v":5},{"p":3,"s":"IN","t":97,"v":6.5},{"p":3,"s":"IN","t":99,"v":4.5},{"p":3,"s":"IN","t":101,"v":5.5},{"p":3,"s":"IN","t":103,"v":6},{"p":3,"s":"IN","t":105,"v":3},{"p":3,"s":"IN","t":107,"v":5},{"p":3,"s":"IN","t":109,"v":4.5},{"p":3,"s":"IN","t":111,"v":3.5},{"p":3,"s":"IN","t":113,"v":6.5},{"p":3,"s":"IN","t":115,"v":2.5},{"p":3,"s":"IN","t":117,"v":2},{"p":3,"s":"IN","t":119,"v":0.5},{"p":3,"s":"IN","t":121,"v":3.5},{"p":3,"s":"IN","t":123,"v":5.8},{"p":3,"s":"IN","t":125,"v":3},{"p":3,"s":"IN","t":127,"v":1.5},{"p":3,"s":"IN","t":129,"v":3},{"p":3,"s":"IN","t":131,"v":3.5},{"p":3,"s":"IN","t":133,"v":2.5},{"p":3,"s":"IN","t":135,"v":3.5},{"p":3,"s":"IN","t":137,"v":4.1},{"p":3,"s":"IN","t":139,"v":3.5},{"p":3,"s":"IN","t":141,"v":2},{"p":3,"s":"IN","t":143,"v":1},{"p":3,"s":"IN","t":145,"v":1.5},{"p":3,"s":"IN","t":147,"v":1},{"p":3,"s":"IN","t":149,"v":0.5},{"p":3,"s":"IN","t":151,"v":-0.3},{"p":3,"s":"IN","t":153,"v":1},{"p":3,"s":"IN","t":155,"v":2},{"p":3,"s":"IN","t":157,"v":3.8},{"p":3,"s":"IN","t":159,"v":2.5},{"p":3,"s":"IN","t":161,"v":1},{"p":3,"s":"IN","t":163,"v":0},{"p":3,"s":"IN","t":165,"v":0.3},{"p":3,"s":"IN","t":167,"v":1},{"p":3,"s":"IN","t":169,"v":2.5},{"p":3,"s":"IN","t":171,"v":3.2},{"p":3,"s":"IN","t":173,"v":0.5},{"p":3,"s":"IN","t":175,"v":2.9},{"p":3,"s":"IN","t":177,"v":0.8},{"p":3,"s":"IN","t":179,"v":1.5},
{"p":3,"s":"CR","t":0,"v":-0.1},{"p":3,"s":"CR","t":4,"v":-0.4},{"p":3,"s":"CR","t":8,"v":-0.9},{"p":3,"s":"CR","t":10,"v":-0.1},{"p":3,"s":"CR","t":13,"v":0.2},{"p":3,"s":"CR","t":38,"v":0.2},{"p":3,"s":"CR","t":39,"v":1},{"p":3,"s":"CR","t":40,"v":2.5},{"p":3,"s":"CR","t":42,"v":3.5},{"p":3,"s":"CR","t":44,"v":2.5},{"p":3,"s":"CR","t":46,"v":4},{"p":3,"s":"CR","t":48,"v":3},{"p":3,"s":"CR","t":50,"v":4.5},{"p":3,"s":"CR","t":52,"v":3.5},{"p":3,"s":"CR","t":54,"v":4},{"p":3,"s":"CR","t":56,"v":3},{"p":3,"s":"CR","t":58,"v":5.5},{"p":3,"s":"CR","t":60,"v":7},{"p":3,"s":"CR","t":62,"v":4.5},{"p":3,"s":"CR","t":64,"v":4},{"p":3,"s":"CR","t":66,"v":5},{"p":3,"s":"CR","t":68,"v":6},{"p":3,"s":"CR","t":70,"v":3.5},{"p":3,"s":"CR","t":72,"v":5},{"p":3,"s":"CR","t":73,"v":1.7},{"p":3,"s":"CR","t":75,"v":4.5},{"p":3,"s":"CR","t":77,"v":4},{"p":3,"s":"CR","t":79,"v":5.5},{"p":3,"s":"CR","t":81,"v":6.5},{"p":3,"s":"CR","t":83,"v":8},{"p":3,"s":"CR","t":85,"v":6},{"p":3,"s":"CR","t":87,"v":2.5},{"p":3,"s":"CR","t":89,"v":4},{"p":3,"s":"CR","t":91,"v":5.5},{"p":3,"s":"CR","t":93,"v":6},{"p":3,"s":"CR","t":95,"v":3.5},{"p":3,"s":"CR","t":97,"v":5},{"p":3,"s":"CR","t":99,"v":3},{"p":3,"s":"CR","t":101,"v":4},{"p":3,"s":"CR","t":103,"v":4.5},{"p":3,"s":"CR","t":105,"v":1.8},{"p":3,"s":"CR","t":107,"v":3.5},{"p":3,"s":"CR","t":109,"v":3.2},{"p":3,"s":"CR","t":111,"v":2.5},{"p":3,"s":"CR","t":113,"v":4.5},{"p":3,"s":"CR","t":115,"v":1.5},{"p":3,"s":"CR","t":117,"v":1},{"p":3,"s":"CR","t":119,"v":-0.3},{"p":3,"s":"CR","t":121,"v":2.5},{"p":3,"s":"CR","t":123,"v":4},{"p":3,"s":"CR","t":125,"v":2},{"p":3,"s":"CR","t":127,"v":0.5},{"p":3,"s":"CR","t":129,"v":2},{"p":3,"s":"CR","t":131,"v":2.5},{"p":3,"s":"CR","t":133,"v":1.5},{"p":3,"s":"CR","t":135,"v":2.5},{"p":3,"s":"CR","t":137,"v":3},{"p":3,"s":"CR","t":139,"v":2.5},{"p":3,"s":"CR","t":141,"v":1},{"p":3,"s":"CR","t":143,"v":0},{"p":3,"s":"CR","t":145,"v":0.5},{"p":3,"s":"CR","t":147,"v":0.2},{"p":3,"s":"CR","t":149,"v":-0.5},{"p":3,"s":"CR","t":151,"v":-0.8},{"p":3,"s":"CR","t":153,"v":0.2},{"p":3,"s":"CR","t":155,"v":1.2},{"p":3,"s":"CR","t":157,"v":2.8},{"p":3,"s":"CR","t":159,"v":1.5},{"p":3,"s":"CR","t":161,"v":0},{"p":3,"s":"CR","t":163,"v":-0.5},{"p":3,"s":"CR","t":165,"v":-0.3},{"p":3,"s":"CR","t":167,"v":0.5},{"p":3,"s":"CR","t":169,"v":1.5},{"p":3,"s":"CR","t":171,"v":2.3},{"p":3,"s":"CR","t":173,"v":-0.3},{"p":3,"s":"CR","t":175,"v":2},{"p":3,"s":"CR","t":177,"v":-0.3},{"p":3,"s":"CR","t":179,"v":0.5},
{"p":3,"s":"MO","t":0,"v":-1.3},{"p":3,"s":"MO","t":5,"v":-1.4},{"p":3,"s":"MO","t":8,"v":-1.8},{"p":3,"s":"MO","t":11,"v":-0.4},{"p":3,"s":"MO","t":13,"v":0.2},{"p":3,"s":"MO","t":39,"v":0.2},{"p":3,"s":"MO","t":41,"v":3},{"p":3,"s":"MO","t":43,"v":7.2},{"p":3,"s":"MO","t":45,"v":3.5},{"p":3,"s":"MO","t":47,"v":1.7},{"p":3,"s":"MO","t":49,"v":5.3},{"p":3,"s":"MO","t":51,"v":4},{"p":3,"s":"MO","t":53,"v":3.5},{"p":3,"s":"MO","t":55,"v":5.3},{"p":3,"s":"MO","t":57,"v":5},{"p":3,"s":"MO","t":59,"v":7.4},{"p":3,"s":"MO","t":61,"v":5.3},{"p":3,"s":"MO","t":63,"v":4},{"p":3,"s":"MO","t":65,"v":5.5},{"p":3,"s":"MO","t":67,"v":7.7},{"p":3,"s":"MO","t":69,"v":4.4},{"p":3,"s":"MO","t":71,"v":5},{"p":3,"s":"MO","t":73,"v":2.3},{"p":3,"s":"MO","t":75,"v":4.4},{"p":3,"s":"MO","t":77,"v":5.8},{"p":3,"s":"MO","t":79,"v":6.5},{"p":3,"s":"MO","t":81,"v":8.3},{"p":3,"s":"MO","t":83,"v":11.3},{"p":3,"s":"MO","t":85,"v":8.3},{"p":3,"s":"MO","t":87,"v":0.5},{"p":3,"s":"MO","t":89,"v":5.3},{"p":3,"s":"MO","t":91,"v":6},{"p":3,"s":"MO","t":93,"v":7.7},{"p":3,"s":"MO","t":95,"v":4},{"p":3,"s":"MO","t":97,"v":6.5},{"p":3,"s":"MO","t":99,"v":2.9},{"p":3,"s":"MO","t":101,"v":5},{"p":3,"s":"MO","t":103,"v":5.3},{"p":3,"s":"MO","t":105,"v":0.5},{"p":3,"s":"MO","t":107,"v":4},{"p":3,"s":"MO","t":109,"v":4.5},{"p":3,"s":"MO","t":111,"v":2.9},{"p":3,"s":"MO","t":113,"v":6.5},{"p":3,"s":"MO","t":115,"v":2},{"p":3,"s":"MO","t":117,"v":0.5},{"p":3,"s":"MO","t":119,"v":-0.7},{"p":3,"s":"MO","t":121,"v":2.9},{"p":3,"s":"MO","t":123,"v":5.9},{"p":3,"s":"MO","t":125,"v":2.5},{"p":3,"s":"MO","t":127,"v":1},{"p":3,"s":"MO","t":129,"v":2.9},{"p":3,"s":"MO","t":131,"v":2},{"p":3,"s":"MO","t":133,"v":1.7},{"p":3,"s":"MO","t":135,"v":2.5},{"p":3,"s":"MO","t":137,"v":3.5},{"p":3,"s":"MO","t":139,"v":2.9},{"p":3,"s":"MO","t":141,"v":1},{"p":3,"s":"MO","t":143,"v":0.5},{"p":3,"s":"MO","t":145,"v":0.8},{"p":3,"s":"MO","t":147,"v":0.3},{"p":3,"s":"MO","t":149,"v":-0.7},{"p":3,"s":"MO","t":151,"v":-0.8},{"p":3,"s":"MO","t":153,"v":0.2},{"p":3,"s":"MO","t":155,"v":1.5},{"p":3,"s":"MO","t":157,"v":3.5},{"p":3,"s":"MO","t":159,"v":1.7},{"p":3,"s":"MO","t":161,"v":0},{"p":3,"s":"MO","t":163,"v":-0.4},{"p":3,"s":"MO","t":165,"v":-0.2},{"p":3,"s":"MO","t":167,"v":0.5},{"p":3,"s":"MO","t":169,"v":2},{"p":3,"s":"MO","t":171,"v":3.2},{"p":3,"s":"MO","t":173,"v":0},{"p":3,"s":"MO","t":175,"v":2.9},{"p":3,"s":"MO","t":177,"v":0.2},{"p":3,"s":"MO","t":179,"v":0.8}
],
"r":[
{"p":1,"s":"JC","t":0,"v":6540},{"p":1,"s":"JC","t":10,"v":7330},{"p":1,"s":"JC","t":20,"v":7980},{"p":1,"s":"JC","t":30,"v":8480},{"p":1,"s":"JC","t":40,"v":8800},{"p":1,"s":"JC","t":50,"v":8900},{"p":1,"s":"JC","t":60,"v":8820},{"p":1,"s":"JC","t":70,"v":8540},{"p":1,"s":"JC","t":80,"v":8040},{"p":1,"s":"JC","t":90,"v":7300},{"p":1,"s":"JC","t":100,"v":6580},{"p":1,"s":"JC","t":110,"v":5840},{"p":1,"s":"JC","t":120,"v":5100},{"p":1,"s":"JC","t":130,"v":4330},{"p":1,"s":"JC","t":140,"v":3530},{"p":1,"s":"JC","t":150,"v":2730},{"p":1,"s":"JC","t":160,"v":2080},{"p":1,"s":"JC","t":170,"v":1540},{"p":1,"s":"JC","t":179,"v":1020},
{"p":1,"s":"NI","t":0,"v":6500},{"p":1,"s":"NI","t":10,"v":7250},{"p":1,"s":"NI","t":20,"v":7850},{"p":1,"s":"NI","t":30,"v":8280},{"p":1,"s":"NI","t":40,"v":8550},{"p":1,"s":"NI","t":50,"v":8600},{"p":1,"s":"NI","t":60,"v":8480},{"p":1,"s":"NI","t":70,"v":8180},{"p":1,"s":"NI","t":80,"v":7700},{"p":1,"s":"NI","t":90,"v":7050},{"p":1,"s":"NI","t":100,"v":6350},{"p":1,"s":"NI","t":110,"v":5620},{"p":1,"s":"NI","t":120,"v":4880},{"p":1,"s":"NI","t":130,"v":4100},{"p":1,"s":"NI","t":140,"v":3300},{"p":1,"s":"NI","t":150,"v":2480},{"p":1,"s":"NI","t":160,"v":1830},{"p":1,"s":"NI","t":170,"v":1300},{"p":1,"s":"NI","t":179,"v":820},
{"p":1,"s":"IN","t":0,"v":6320},{"p":1,"s":"IN","t":10,"v":7050},{"p":1,"s":"IN","t":20,"v":7620},{"p":1,"s":"IN","t":30,"v":8030},{"p":1,"s":"IN","t":40,"v":8270},{"p":1,"s":"IN","t":50,"v":8320},{"p":1,"s":"IN","t":60,"v":8200},{"p":1,"s":"IN","t":70,"v":7900},{"p":1,"s":"IN","t":80,"v":7420},{"p":1,"s":"IN","t":90,"v":6820},{"p":1,"s":"IN","t":100,"v":6200},{"p":1,"s":"IN","t":110,"v":5550},{"p":1,"s":"IN","t":120,"v":4870},{"p":1,"s":"IN","t":130,"v":4180},{"p":1,"s":"IN","t":140,"v":3420},{"p":1,"s":"IN","t":150,"v":2650},{"p":1,"s":"IN","t":160,"v":2000},{"p":1,"s":"IN","t":170,"v":1460},{"p":1,"s":"IN","t":179,"v":950},
{"p":1,"s":"MO","t":0,"v":6560},{"p":1,"s":"MO","t":10,"v":7350},{"p":1,"s":"MO","t":20,"v":8000},{"p":1,"s":"MO","t":30,"v":8510},{"p":1,"s":"MO","t":40,"v":8830},{"p":1,"s":"MO","t":50,"v":8950},{"p":1,"s":"MO","t":60,"v":8860},{"p":1,"s":"MO","t":70,"v":8580},{"p":1,"s":"MO","t":80,"v":8070},{"p":1,"s":"MO","t":90,"v":7320},{"p":1,"s":"MO","t":100,"v":6600},{"p":1,"s":"MO","t":110,"v":5860},{"p":1,"s":"MO","t":120,"v":5110},{"p":1,"s":"MO","t":130,"v":4340},{"p":1,"s":"MO","t":140,"v":3540},{"p":1,"s":"MO","t":150,"v":2740},{"p":1,"s":"MO","t":160,"v":2090},{"p":1,"s":"MO","t":170,"v":1550},{"p":1,"s":"MO","t":179,"v":1030},
{"p":1,"s":"SO","t":0,"v":6580},{"p":1,"s":"SO","t":10,"v":7380},{"p":1,"s":"SO","t":20,"v":8030},{"p":1,"s":"SO","t":30,"v":8540},{"p":1,"s":"SO","t":40,"v":8860},{"p":1,"s":"SO","t":50,"v":8980},{"p":1,"s":"SO","t":60,"v":8890},{"p":1,"s":"SO","t":70,"v":8600},{"p":1,"s":"SO","t":80,"v":8080},{"p":1,"s":"SO","t":90,"v":7330},{"p":1,"s":"SO","t":100,"v":6600},{"p":1,"s":"SO","t":110,"v":5850},{"p":1,"s":"SO","t":120,"v":5100},{"p":1,"s":"SO","t":130,"v":4320},{"p":1,"s":"SO","t":140,"v":3520},{"p":1,"s":"SO","t":150,"v":2720},{"p":1,"s":"SO","t":160,"v":2070},{"p":1,"s":"SO","t":170,"v":1530},{"p":1,"s":"SO","t":179,"v":1010},
{"p":2,"s":"JC","t":0,"v":6560},{"p":2,"s":"JC","t":10,"v":7350},{"p":2,"s":"JC","t":20,"v":8000},{"p":2,"s":"JC","t":30,"v":8500},{"p":2,"s":"JC","t":40,"v":8800},{"p":2,"s":"JC","t":50,"v":8920},{"p":2,"s":"JC","t":60,"v":8830},{"p":2,"s":"JC","t":70,"v":8550},{"p":2,"s":"JC","t":80,"v":8050},{"p":2,"s":"JC","t":90,"v":7320},{"p":2,"s":"JC","t":100,"v":6600},{"p":2,"s":"JC","t":110,"v":5870},{"p":2,"s":"JC","t":120,"v":5150},{"p":2,"s":"JC","t":130,"v":4380},{"p":2,"s":"JC","t":140,"v":3570},{"p":2,"s":"JC","t":150,"v":2760},{"p":2,"s":"JC","t":160,"v":2100},{"p":2,"s":"JC","t":170,"v":1500},{"p":2,"s":"JC","t":179,"v":960},
{"p":2,"s":"NI","t":0,"v":6500},{"p":2,"s":"NI","t":10,"v":7230},{"p":2,"s":"NI","t":20,"v":7850},{"p":2,"s":"NI","t":30,"v":8300},{"p":2,"s":"NI","t":40,"v":8580},{"p":2,"s":"NI","t":50,"v":8640},{"p":2,"s":"NI","t":60,"v":8520},{"p":2,"s":"NI","t":70,"v":8220},{"p":2,"s":"NI","t":80,"v":7740},{"p":2,"s":"NI","t":90,"v":7080},{"p":2,"s":"NI","t":100,"v":6380},{"p":2,"s":"NI","t":110,"v":5650},{"p":2,"s":"NI","t":120,"v":4900},{"p":2,"s":"NI","t":130,"v":4100},{"p":2,"s":"NI","t":140,"v":3280},{"p":2,"s":"NI","t":150,"v":2450},{"p":2,"s":"NI","t":160,"v":1750},{"p":2,"s":"NI","t":170,"v":1180},{"p":2,"s":"NI","t":179,"v":700},
{"p":2,"s":"IN","t":0,"v":6320},{"p":2,"s":"IN","t":10,"v":7050},{"p":2,"s":"IN","t":20,"v":7630},{"p":2,"s":"IN","t":30,"v":8050},{"p":2,"s":"IN","t":40,"v":8290},{"p":2,"s":"IN","t":50,"v":8340},{"p":2,"s":"IN","t":60,"v":8220},{"p":2,"s":"IN","t":70,"v":7920},{"p":2,"s":"IN","t":80,"v":7440},{"p":2,"s":"IN","t":90,"v":6840},{"p":2,"s":"IN","t":100,"v":6220},{"p":2,"s":"IN","t":110,"v":5570},{"p":2,"s":"IN","t":120,"v":4890},{"p":2,"s":"IN","t":130,"v":4200},{"p":2,"s":"IN","t":140,"v":3440},{"p":2,"s":"IN","t":150,"v":2660},{"p":2,"s":"IN","t":160,"v":2010},{"p":2,"s":"IN","t":170,"v":1450},{"p":2,"s":"IN","t":179,"v":930},
{"p":2,"s":"MO","t":0,"v":6570},{"p":2,"s":"MO","t":10,"v":7370},{"p":2,"s":"MO","t":20,"v":8020},{"p":2,"s":"MO","t":30,"v":8520},{"p":2,"s":"MO","t":40,"v":8830},{"p":2,"s":"MO","t":50,"v":8950},{"p":2,"s":"MO","t":60,"v":8860},{"p":2,"s":"MO","t":70,"v":8570},{"p":2,"s":"MO","t":80,"v":8060},{"p":2,"s":"MO","t":90,"v":7330},{"p":2,"s":"MO","t":100,"v":6610},{"p":2,"s":"MO","t":110,"v":5880},{"p":2,"s":"MO","t":120,"v":5160},{"p":2,"s":"MO","t":130,"v":4390},{"p":2,"s":"MO","t":140,"v":3580},{"p":2,"s":"MO","t":150,"v":2770},{"p":2,"s":"MO","t":160,"v":2110},{"p":2,"s":"MO","t":170,"v":1510},{"p":2,"s":"MO","t":179,"v":970},
{"p":2,"s":"SO","t":0,"v":6600},{"p":2,"s":"SO","t":10,"v":7400},{"p":2,"s":"SO","t":20,"v":8050},{"p":2,"s":"SO","t":30,"v":8550},{"p":2,"s":"SO","t":40,"v":8860},{"p":2,"s":"SO","t":50,"v":8980},{"p":2,"s":"SO","t":60,"v":8880},{"p":2,"s":"SO","t":70,"v":8590},{"p":2,"s":"SO","t":80,"v":8070},{"p":2,"s":"SO","t":90,"v":7330},{"p":2,"s":"SO","t":100,"v":6610},{"p":2,"s":"SO","t":110,"v":5870},{"p":2,"s":"SO","t":120,"v":5150},{"p":2,"s":"SO","t":130,"v":4370},{"p":2,"s":"SO","t":140,"v":3560},{"p":2,"s":"SO","t":150,"v":2750},{"p":2,"s":"SO","t":160,"v":2090},{"p":2,"s":"SO","t":170,"v":1490},{"p":2,"s":"SO","t":179,"v":950},
{"p":3,"s":"JC","t":0,"v":6600},{"p":3,"s":"JC","t":10,"v":7360},{"p":3,"s":"JC","t":20,"v":7970},{"p":3,"s":"JC","t":30,"v":8430},{"p":3,"s":"JC","t":40,"v":8720},{"p":3,"s":"JC","t":50,"v":8830},{"p":3,"s":"JC","t":60,"v":8760},{"p":3,"s":"JC","t":70,"v":8460},{"p":3,"s":"JC","t":80,"v":7940},{"p":3,"s":"JC","t":90,"v":7220},{"p":3,"s":"JC","t":100,"v":6490},{"p":3,"s":"JC","t":110,"v":5720},{"p":3,"s":"JC","t":120,"v":4880},{"p":3,"s":"JC","t":130,"v":4080},{"p":3,"s":"JC","t":140,"v":3350},{"p":3,"s":"JC","t":150,"v":2710},{"p":3,"s":"JC","t":160,"v":2050},{"p":3,"s":"JC","t":170,"v":1500},{"p":3,"s":"JC","t":179,"v":980},
{"p":3,"s":"IN","t":0,"v":6350},{"p":3,"s":"IN","t":10,"v":7050},{"p":3,"s":"IN","t":20,"v":7630},{"p":3,"s":"IN","t":30,"v":8030},{"p":3,"s":"IN","t":40,"v":8250},{"p":3,"s":"IN","t":50,"v":8310},{"p":3,"s":"IN","t":60,"v":8210},{"p":3,"s":"IN","t":70,"v":7920},{"p":3,"s":"IN","t":80,"v":7450},{"p":3,"s":"IN","t":90,"v":6800},{"p":3,"s":"IN","t":100,"v":6150},{"p":3,"s":"IN","t":110,"v":5480},{"p":3,"s":"IN","t":120,"v":4750},{"p":3,"s":"IN","t":130,"v":3990},{"p":3,"s":"IN","t":140,"v":3250},{"p":3,"s":"IN","t":150,"v":2560},{"p":3,"s":"IN","t":160,"v":1930},{"p":3,"s":"IN","t":170,"v":1400},{"p":3,"s":"IN","t":179,"v":930},
{"p":3,"s":"CR","t":0,"v":6650},{"p":3,"s":"CR","t":10,"v":7420},{"p":3,"s":"CR","t":20,"v":8050},{"p":3,"s":"CR","t":30,"v":8530},{"p":3,"s":"CR","t":40,"v":8830},{"p":3,"s":"CR","t":50,"v":8950},{"p":3,"s":"CR","t":60,"v":8880},{"p":3,"s":"CR","t":70,"v":8560},{"p":3,"s":"CR","t":80,"v":8020},{"p":3,"s":"CR","t":90,"v":7290},{"p":3,"s":"CR","t":100,"v":6560},{"p":3,"s":"CR","t":110,"v":5790},{"p":3,"s":"CR","t":120,"v":4950},{"p":3,"s":"CR","t":130,"v":4150},{"p":3,"s":"CR","t":140,"v":3420},{"p":3,"s":"CR","t":150,"v":2800},{"p":3,"s":"CR","t":160,"v":2150},{"p":3,"s":"CR","t":170,"v":1620},{"p":3,"s":"CR","t":179,"v":1160},
{"p":3,"s":"MO","t":0,"v":6620},{"p":3,"s":"MO","t":10,"v":7400},{"p":3,"s":"MO","t":20,"v":8030},{"p":3,"s":"MO","t":30,"v":8510},{"p":3,"s":"MO","t":40,"v":8810},{"p":3,"s":"MO","t":50,"v":8930},{"p":3,"s":"MO","t":60,"v":8860},{"p":3,"s":"MO","t":70,"v":8540},{"p":3,"s":"MO","t":80,"v":8000},{"p":3,"s":"MO","t":90,"v":7260},{"p":3,"s":"MO","t":100,"v":6520},{"p":3,"s":"MO","t":110,"v":5740},{"p":3,"s":"MO","t":120,"v":4890},{"p":3,"s":"MO","t":130,"v":4080},{"p":3,"s":"MO","t":140,"v":3340},{"p":3,"s":"MO","t":150,"v":2700},{"p":3,"s":"MO","t":160,"v":2030},{"p":3,"s":"MO","t":170,"v":1480},{"p":3,"s":"MO","t":179,"v":960}
],
"c":[
{"p":1,"s":"JC","t":31,"v":0},{"p":1,"s":"JC","t":38,"v":47},{"p":1,"s":"JC","t":48,"v":121},{"p":1,"s":"JC","t":60,"v":216},{"p":1,"s":"JC","t":72,"v":300},{"p":1,"s":"JC","t":84,"v":374},{"p":1,"s":"JC","t":96,"v":432},{"p":1,"s":"JC","t":108,"v":495},{"p":1,"s":"JC","t":120,"v":542},{"p":1,"s":"JC","t":128,"v":563},{"p":1,"s":"JC","t":136,"v":595},{"p":1,"s":"JC","t":148,"v":617},{"p":1,"s":"JC","t":153,"v":620},{"p":1,"s":"JC","t":158,"v":645},
{"p":1,"s":"NI","t":56,"v":0},{"p":1,"s":"NI","t":60,"v":5},{"p":1,"s":"NI","t":68,"v":79},{"p":1,"s":"NI","t":76,"v":153},{"p":1,"s":"NI","t":84,"v":216},{"p":1,"s":"NI","t":92,"v":279},{"p":1,"s":"NI","t":100,"v":332},{"p":1,"s":"NI","t":108,"v":374},{"p":1,"s":"NI","t":116,"v":416},{"p":1,"s":"NI","t":124,"v":442},{"p":1,"s":"NI","t":132,"v":468},{"p":1,"s":"NI","t":140,"v":484},{"p":1,"s":"NI","t":148,"v":492},{"p":1,"s":"NI","t":153,"v":495},{"p":1,"s":"NI","t":158,"v":521},
{"p":1,"s":"IN","t":33,"v":0},{"p":1,"s":"IN","t":44,"v":58},{"p":1,"s":"IN","t":56,"v":142},{"p":1,"s":"IN","t":68,"v":226},{"p":1,"s":"IN","t":80,"v":311},{"p":1,"s":"IN","t":92,"v":363},{"p":1,"s":"IN","t":104,"v":426},{"p":1,"s":"IN","t":116,"v":474},{"p":1,"s":"IN","t":128,"v":511},{"p":1,"s":"IN","t":136,"v":526},{"p":1,"s":"IN","t":145,"v":555},
{"p":1,"s":"MO","t":33,"v":0},{"p":1,"s":"MO","t":44,"v":58},{"p":1,"s":"MO","t":56,"v":125},{"p":1,"s":"MO","t":62,"v":165},{"p":1,"s":"MO","t":68,"v":200},{"p":1,"s":"MO","t":80,"v":255},{"p":1,"s":"MO","t":92,"v":300},{"p":1,"s":"MO","t":104,"v":372},{"p":1,"s":"MO","t":116,"v":405},{"p":1,"s":"MO","t":124,"v":416},{"p":1,"s":"MO","t":132,"v":442},{"p":1,"s":"MO","t":138,"v":453},{"p":1,"s":"MO","t":145,"v":460},
{"p":1,"s":"SO","t":50,"v":0},{"p":1,"s":"SO","t":60,"v":26},{"p":1,"s":"SO","t":68,"v":68},{"p":1,"s":"SO","t":76,"v":89},{"p":1,"s":"SO","t":84,"v":111},{"p":1,"s":"SO","t":92,"v":132},{"p":1,"s":"SO","t":100,"v":153},{"p":1,"s":"SO","t":108,"v":184},{"p":1,"s":"SO","t":116,"v":205},
{"p":2,"s":"JC","t":44,"v":0},{"p":2,"s":"JC","t":52,"v":47},{"p":2,"s":"JC","t":62,"v":95},{"p":2,"s":"JC","t":72,"v":163},{"p":2,"s":"JC","t":82,"v":226},{"p":2,"s":"JC","t":92,"v":279},{"p":2,"s":"JC","t":102,"v":332},{"p":2,"s":"JC","t":112,"v":374},{"p":2,"s":"JC","t":122,"v":416},{"p":2,"s":"JC","t":132,"v":458},{"p":2,"s":"JC","t":136,"v":468},{"p":2,"s":"JC","t":142,"v":474},{"p":2,"s":"JC","t":146,"v":486},
{"p":2,"s":"NI","t":61,"v":0},{"p":2,"s":"NI","t":66,"v":5},{"p":2,"s":"NI","t":72,"v":58},{"p":2,"s":"NI","t":82,"v":111},{"p":2,"s":"NI","t":92,"v":174},{"p":2,"s":"NI","t":102,"v":237},{"p":2,"s":"NI","t":112,"v":300},{"p":2,"s":"NI","t":122,"v":353},{"p":2,"s":"NI","t":132,"v":384},{"p":2,"s":"NI","t":142,"v":395},{"p":2,"s":"NI","t":152,"v":405},
{"p":2,"s":"IN","t":44,"v":0},{"p":2,"s":"IN","t":62,"v":89},{"p":2,"s":"IN","t":72,"v":153},{"p":2,"s":"IN","t":82,"v":205},{"p":2,"s":"IN","t":92,"v":258},{"p":2,"s":"IN","t":102,"v":305},{"p":2,"s":"IN","t":112,"v":353},{"p":2,"s":"IN","t":122,"v":395},{"p":2,"s":"IN","t":132,"v":432},{"p":2,"s":"IN","t":139,"v":447},
{"p":2,"s":"MO","t":44,"v":0},{"p":2,"s":"MO","t":52,"v":37},{"p":2,"s":"MO","t":62,"v":95},{"p":2,"s":"MO","t":68,"v":153},{"p":2,"s":"MO","t":76,"v":174},{"p":2,"s":"MO","t":84,"v":195},{"p":2,"s":"MO","t":92,"v":216},{"p":2,"s":"MO","t":102,"v":242},{"p":2,"s":"MO","t":112,"v":279},{"p":2,"s":"MO","t":122,"v":316},{"p":2,"s":"MO","t":134,"v":355},
{"p":2,"s":"SO","t":66,"v":0},{"p":2,"s":"SO","t":74,"v":5},{"p":2,"s":"SO","t":84,"v":26},{"p":2,"s":"SO","t":94,"v":53},{"p":2,"s":"SO","t":104,"v":74},{"p":2,"s":"SO","t":114,"v":95},{"p":2,"s":"SO","t":124,"v":116},{"p":2,"s":"SO","t":132,"v":147},
{"p":3,"s":"JC","t":42,"v":0},{"p":3,"s":"JC","t":52,"v":63},{"p":3,"s":"JC","t":62,"v":132},{"p":3,"s":"JC","t":72,"v":195},{"p":3,"s":"JC","t":82,"v":253},{"p":3,"s":"JC","t":91,"v":326},{"p":3,"s":"JC","t":101,"v":368},{"p":3,"s":"JC","t":111,"v":400},{"p":3,"s":"JC","t":114,"v":405},
{"p":3,"s":"IN","t":41,"v":0},{"p":3,"s":"IN","t":52,"v":79},{"p":3,"s":"IN","t":62,"v":153},{"p":3,"s":"IN","t":72,"v":216},{"p":3,"s":"IN","t":82,"v":279},{"p":3,"s":"IN","t":91,"v":342},{"p":3,"s":"IN","t":101,"v":384},{"p":3,"s":"IN","t":111,"v":416},{"p":3,"s":"IN","t":115,"v":418},
{"p":3,"s":"CR","t":40,"v":0},{"p":3,"s":"CR","t":52,"v":47},{"p":3,"s":"CR","t":62,"v":111},{"p":3,"s":"CR","t":72,"v":142},{"p":3,"s":"CR","t":82,"v":184},{"p":3,"s":"CR","t":91,"v":200},{"p":3,"s":"CR","t":101,"v":237},{"p":3,"s":"CR","t":111,"v":268},{"p":3,"s":"CR","t":114,"v":284},
{"p":3,"s":"MO","t":42,"v":0},{"p":3,"s":"MO","t":52,"v":58},{"p":3,"s":"MO","t":62,"v":121},{"p":3,"s":"MO","t":72,"v":163},{"p":3,"s":"MO","t":82,"v":221},{"p":3,"s":"MO","t":88,"v":237},{"p":3,"s":"MO","t":91,"v":247},{"p":3,"s":"MO","t":101,"v":289},{"p":3,"s":"MO","t":111,"v":316},{"p":3,"s":"MO","t":115,"v":332}
],
"q":[
{"p":1,"s":"JC","t":28,"v":0},{"p":1,"s":"JC","t":38,"v":121000},{"p":1,"s":"JC","t":48,"v":236000},{"p":1,"s":"JC","t":60,"v":370000},{"p":1,"s":"JC","t":72,"v":491000},{"p":1,"s":"JC","t":84,"v":593000},{"p":1,"s":"JC","t":96,"v":676000},{"p":1,"s":"JC","t":106,"v":727000},{"p":1,"s":"JC","t":116,"v":765000},{"p":1,"s":"JC","t":128,"v":797000},{"p":1,"s":"JC","t":140,"v":815000},{"p":1,"s":"JC","t":150,"v":825000},{"p":1,"s":"JC","t":158,"v":832000},
{"p":1,"s":"NI","t":53,"v":0},{"p":1,"s":"NI","t":64,"v":96000},{"p":1,"s":"NI","t":76,"v":223000},{"p":1,"s":"NI","t":88,"v":325000},{"p":1,"s":"NI","t":100,"v":415000},{"p":1,"s":"NI","t":112,"v":479000},{"p":1,"s":"NI","t":124,"v":504000},{"p":1,"s":"NI","t":136,"v":530000},{"p":1,"s":"NI","t":148,"v":561000},{"p":1,"s":"NI","t":158,"v":587000},
{"p":1,"s":"IN","t":32,"v":0},{"p":1,"s":"IN","t":44,"v":130000},{"p":1,"s":"IN","t":56,"v":265000},{"p":1,"s":"IN","t":68,"v":385000},{"p":1,"s":"IN","t":80,"v":480000},{"p":1,"s":"IN","t":92,"v":560000},{"p":1,"s":"IN","t":104,"v":620000},{"p":1,"s":"IN","t":116,"v":662000},{"p":1,"s":"IN","t":128,"v":692000},{"p":1,"s":"IN","t":140,"v":715000},{"p":1,"s":"IN","t":145,"v":727000},
{"p":1,"s":"MO","t":30,"v":0},{"p":1,"s":"MO","t":44,"v":147000},{"p":1,"s":"MO","t":60,"v":325000},{"p":1,"s":"MO","t":76,"v":479000},{"p":1,"s":"MO","t":92,"v":606000},{"p":1,"s":"MO","t":108,"v":695000},{"p":1,"s":"MO","t":124,"v":753000},{"p":1,"s":"MO","t":140,"v":776000},{"p":1,"s":"MO","t":145,"v":782000},
{"p":1,"s":"SO","t":49,"v":0},{"p":1,"s":"SO","t":60,"v":121000},{"p":1,"s":"SO","t":72,"v":262000},{"p":1,"s":"SO","t":84,"v":376000},{"p":1,"s":"SO","t":96,"v":453000},{"p":1,"s":"SO","t":104,"v":491000},{"p":1,"s":"SO","t":116,"v":523000},
{"p":2,"s":"JC","t":43,"v":0},{"p":2,"s":"JC","t":52,"v":92000},{"p":2,"s":"JC","t":62,"v":191000},{"p":2,"s":"JC","t":72,"v":290000},{"p":2,"s":"JC","t":82,"v":383000},{"p":2,"s":"JC","t":92,"v":460000},{"p":2,"s":"JC","t":102,"v":523000},{"p":2,"s":"JC","t":112,"v":570000},{"p":2,"s":"JC","t":122,"v":609000},{"p":2,"s":"JC","t":134,"v":640000},{"p":2,"s":"JC","t":146,"v":670000},
{"p":2,"s":"NI","t":60,"v":0},{"p":2,"s":"NI","t":72,"v":108000},{"p":2,"s":"NI","t":82,"v":198000},{"p":2,"s":"NI","t":92,"v":274000},{"p":2,"s":"NI","t":102,"v":338000},{"p":2,"s":"NI","t":112,"v":389000},{"p":2,"s":"NI","t":122,"v":440000},{"p":2,"s":"NI","t":132,"v":472000},{"p":2,"s":"NI","t":142,"v":498000},{"p":2,"s":"NI","t":152,"v":523000},
{"p":2,"s":"IN","t":44,"v":0},{"p":2,"s":"IN","t":62,"v":172000},{"p":2,"s":"IN","t":82,"v":364000},{"p":2,"s":"IN","t":102,"v":504000},{"p":2,"s":"IN","t":122,"v":587000},{"p":2,"s":"IN","t":139,"v":632000},
{"p":2,"s":"MO","t":43,"v":0},{"p":2,"s":"MO","t":52,"v":96000},{"p":2,"s":"MO","t":62,"v":198000},{"p":2,"s":"MO","t":72,"v":300000},{"p":2,"s":"MO","t":82,"v":389000},{"p":2,"s":"MO","t":92,"v":466000},{"p":2,"s":"MO","t":102,"v":530000},{"p":2,"s":"MO","t":112,"v":574000},{"p":2,"s":"MO","t":122,"v":612000},{"p":2,"s":"MO","t":134,"v":637000},
{"p":2,"s":"SO","t":64,"v":0},{"p":2,"s":"SO","t":72,"v":83000},{"p":2,"s":"SO","t":82,"v":198000},{"p":2,"s":"SO","t":92,"v":287000},{"p":2,"s":"SO","t":102,"v":351000},{"p":2,"s":"SO","t":112,"v":389000},{"p":2,"s":"SO","t":122,"v":415000},{"p":2,"s":"SO","t":134,"v":427000},
{"p":3,"s":"JC","t":41,"v":0},{"p":3,"s":"JC","t":52,"v":108000},{"p":3,"s":"JC","t":62,"v":211000},{"p":3,"s":"JC","t":72,"v":300000},{"p":3,"s":"JC","t":82,"v":383000},{"p":3,"s":"JC","t":91,"v":453000},{"p":3,"s":"JC","t":101,"v":504000},{"p":3,"s":"JC","t":111,"v":549000},{"p":3,"s":"JC","t":114,"v":555000},
{"p":3,"s":"IN","t":40,"v":0},{"p":3,"s":"IN","t":52,"v":115000},{"p":3,"s":"IN","t":62,"v":217000},{"p":3,"s":"IN","t":72,"v":306000},{"p":3,"s":"IN","t":82,"v":389000},{"p":3,"s":"IN","t":91,"v":453000},{"p":3,"s":"IN","t":101,"v":504000},{"p":3,"s":"IN","t":111,"v":555000},{"p":3,"s":"IN","t":114,"v":565000},
{"p":3,"s":"CR","t":39,"v":0},{"p":3,"s":"CR","t":52,"v":147000},{"p":3,"s":"CR","t":62,"v":249000},{"p":3,"s":"CR","t":72,"v":338000},{"p":3,"s":"CR","t":82,"v":427000},{"p":3,"s":"CR","t":91,"v":491000},{"p":3,"s":"CR","t":101,"v":542000},{"p":3,"s":"CR","t":111,"v":581000},{"p":3,"s":"CR","t":114,"v":593000},
{"p":3,"s":"MO","t":40,"v":0},{"p":3,"s":"MO","t":52,"v":121000},{"p":3,"s":"MO","t":62,"v":223000},{"p":3,"s":"MO","t":72,"v":313000},{"p":3,"s":"MO","t":82,"v":396000},{"p":3,"s":"MO","t":91,"v":466000},{"p":3,"s":"MO","t":101,"v":517000},{"p":3,"s":"MO","t":111,"v":561000},{"p":3,"s":"MO","t":115,"v":574000}
]
},
"concat":[
{"width":299,"height":223,"title":{"text":"2022 − 2023","anchor":"middle","offset":6},
"layer":[
{"data":{"name":"c"},"transform":[{"filter":"datum.p==1"}],"mark":"line","encoding":{
"x":{"field":"t","type":"quantitative","scale":{"domain":[0,179.5],"nice":false,"zero":false},"axis":{"values":[0,30,61,92,120,151],"labels":false,"title":null,"gridColor":{"condition":{"test":"datum.value===0","value":"transparent"},"value":"#d3d3d3"}}},
"y":{"field":"v","type":"quantitative","scale":{"domain":[0,704],"nice":false,"zero":false},"axis":{"values":[0,200,400,600],"title":"Cumulative TDD (°C·day)","titleX":-64.5,"titleY":111.5,"titleBaseline":"middle","gridColor":{"condition":{"test":"datum.value===0","value":"transparent"},"value":"#d3d3d3"}}},
"color":{"field":"s","type":"nominal","scale":{"domain":["JC","NI","IN","CR","MO","SO"],"range":["#1b9e77","#d95f02","#7570b3","#e7298a","#66a61e","#e6ab02"]},"legend":{"title":"Station","orient":"none","legendX":-64,"legendY":556,"direction":"horizontal","symbolStrokeWidth":3.5}},
"strokeDash":{"datum":"GST / TDD","type":"nominal","scale":{"domain":["GST / TDD","Modeled radiation"],"range":[[1,0],[7,3]]},"legend":{"title":"Line type","orient":"none","legendX":567,"legendY":556,"direction":"horizontal","symbolStrokeWidth":3.5}}}},
{"data":{"name":"q"},"transform":[{"filter":"datum.p==1"}],"mark":"line","encoding":{
"x":{"field":"t","type":"quantitative","scale":{"domain":[0,179.5],"nice":false,"zero":false},"axis":{"values":[0,30,61,92,120,151],"labels":false,"title":null,"gridColor":{"condition":{"test":"datum.value===0","value":"transparent"},"value":"#d3d3d3"}}},
"y":{"field":"v","type":"quantitative","scale":{"domain":[0,842000],"nice":false,"zero":false},"axis":{"orient":"right","values":[0,200000,400000,600000,800000],"labels":false,"title":null,"gridColor":{"condition":{"test":"datum.value===0","value":"transparent"},"value":"#d3d3d3"}}},
"color":{"field":"s","type":"nominal","scale":{"domain":["JC","NI","IN","CR","MO","SO"],"range":["#1b9e77","#d95f02","#7570b3","#e7298a","#66a61e","#e6ab02"]},"legend":{"title":"Station","orient":"none","legendX":-64,"legendY":556,"direction":"horizontal","symbolStrokeWidth":3.5}},
"strokeDash":{"datum":"Modeled radiation","type":"nominal","scale":{"domain":["GST / TDD","Modeled radiation"],"range":[[1,0],[7,3]]},"legend":{"title":"Line type","orient":"none","legendX":567,"legendY":556,"direction":"horizontal","symbolStrokeWidth":3.5}}}}
],"resolve":{"scale":{"y":"independent"}}},
{"width":299,"height":223,"title":{"text":"2023 − 2024","anchor":"middle","offset":6},
"layer":[
{"data":{"name":"c"},"transform":[{"filter":"datum.p==2"}],"mark":"line","encoding":{
"x":{"field":"t","type":"quantitative","scale":{"domain":[0,179.5],"nice":false,"zero":false},"axis":{"values":[0,30,61,92,121,152],"labels":false,"title":null,"gridColor":{"condition":{"test":"datum.value===0","value":"transparent"},"value":"#d3d3d3"}}},
"y":{"field":"v","type":"quantitative","scale":{"domain":[0,704],"nice":false,"zero":false},"axis":{"values":[0,200,400,600],"labels":false,"title":null,"gridColor":{"condition":{"test":"datum.value===0","value":"transparent"},"value":"#d3d3d3"}}},
"color":{"field":"s","type":"nominal","scale":{"domain":["JC","NI","IN","CR","MO","SO"],"range":["#1b9e77","#d95f02","#7570b3","#e7298a","#66a61e","#e6ab02"]},"legend":{"title":"Station","orient":"none","legendX":-64,"legendY":556,"direction":"horizontal","symbolStrokeWidth":3.5}},
"strokeDash":{"datum":"GST / TDD","type":"nominal","scale":{"domain":["GST / TDD","Modeled radiation"],"range":[[1,0],[7,3]]},"legend":{"title":"Line type","orient":"none","legendX":567,"legendY":556,"direction":"horizontal","symbolStrokeWidth":3.5}}}},
{"data":{"name":"q"},"transform":[{"filter":"datum.p==2"}],"mark":"line","encoding":{
"x":{"field":"t","type":"quantitative","scale":{"domain":[0,179.5],"nice":false,"zero":false},"axis":{"values":[0,30,61,92,121,152],"labels":false,"title":null,"gridColor":{"condition":{"test":"datum.value===0","value":"transparent"},"value":"#d3d3d3"}}},
"y":{"field":"v","type":"quantitative","scale":{"domain":[0,842000],"nice":false,"zero":false},"axis":{"orient":"right","values":[0,200000,400000,600000,800000],"labels":false,"title":null,"gridColor":{"condition":{"test":"datum.value===0","value":"transparent"},"value":"#d3d3d3"}}},
"color":{"field":"s","type":"nominal","scale":{"domain":["JC","NI","IN","CR","MO","SO"],"range":["#1b9e77","#d95f02","#7570b3","#e7298a","#66a61e","#e6ab02"]},"legend":{"title":"Station","orient":"none","legendX":-64,"legendY":556,"direction":"horizontal","symbolStrokeWidth":3.5}},
"strokeDash":{"datum":"Modeled radiation","type":"nominal","scale":{"domain":["GST / TDD","Modeled radiation"],"range":[[1,0],[7,3]]},"legend":{"title":"Line type","orient":"none","legendX":567,"legendY":556,"direction":"horizontal","symbolStrokeWidth":3.5}}}}
],"resolve":{"scale":{"y":"independent"}}},
{"width":299,"height":223,"title":{"text":"2024 − 2025","anchor":"middle","offset":6,"dy":22},
"layer":[
{"data":{"name":"c"},"transform":[{"filter":"datum.p==3"}],"mark":"line","encoding":{
"x":{"field":"t","type":"quantitative","scale":{"domain":[0,179.5],"nice":false,"zero":false},"axis":{"values":[0,30,61,92,120,151],"labels":false,"title":null,"gridColor":{"condition":{"test":"datum.value===0","value":"transparent"},"value":"#d3d3d3"}}},
"y":{"field":"v","type":"quantitative","scale":{"domain":[0,704],"nice":false,"zero":false},"axis":{"values":[0,200,400,600],"labels":false,"title":null,"gridColor":{"condition":{"test":"datum.value===0","value":"transparent"},"value":"#d3d3d3"}}},
"color":{"field":"s","type":"nominal","scale":{"domain":["JC","NI","IN","CR","MO","SO"],"range":["#1b9e77","#d95f02","#7570b3","#e7298a","#66a61e","#e6ab02"]},"legend":{"title":"Station","orient":"none","legendX":-64,"legendY":556,"direction":"horizontal","symbolStrokeWidth":3.5}},
"strokeDash":{"datum":"GST / TDD","type":"nominal","scale":{"domain":["GST / TDD","Modeled radiation"],"range":[[1,0],[7,3]]},"legend":{"title":"Line type","orient":"none","legendX":567,"legendY":556,"direction":"horizontal","symbolStrokeWidth":3.5}}}},
{"data":{"name":"q"},"transform":[{"filter":"datum.p==3"}],"mark":"line","encoding":{
"x":{"field":"t","type":"quantitative","scale":{"domain":[0,179.5],"nice":false,"zero":false},"axis":{"values":[0,30,61,92,120,151],"labels":false,"title":null,"gridColor":{"condition":{"test":"datum.value===0","value":"transparent"},"value":"#d3d3d3"}}},
"y":{"field":"v","type":"quantitative","scale":{"domain":[0,842000],"nice":false,"zero":false},"axis":{"orient":"right","values":[0,200000,400000,600000,800000],"labelExpr":"datum.value===0?'0':(datum.value/100000)+'x10⁵'","title":["Cumulative modeled radiation","(Wh m⁻²)"],"titleAngle":270,"titleBaseline":"middle","titleAlign":"center","titleX":88,"titleY":111.5,"titleLineHeight":20,"gridColor":{"condition":{"test":"datum.value===0","value":"transparent"},"value":"#d3d3d3"}}},
"color":{"field":"s","type":"nominal","scale":{"domain":["JC","NI","IN","CR","MO","SO"],"range":["#1b9e77","#d95f02","#7570b3","#e7298a","#66a61e","#e6ab02"]},"legend":{"title":"Station","orient":"none","legendX":-64,"legendY":556,"direction":"horizontal","symbolStrokeWidth":3.5}},
"strokeDash":{"datum":"Modeled radiation","type":"nominal","scale":{"domain":["GST / TDD","Modeled radiation"],"range":[[1,0],[7,3]]},"legend":{"title":"Line type","orient":"none","legendX":567,"legendY":556,"direction":"horizontal","symbolStrokeWidth":3.5}}}}
],"resolve":{"scale":{"y":"independent"}}},
{"width":299,"height":223,
"layer":[
{"data":{"name":"g"},"transform":[{"filter":"datum.p==1"}],"mark":"line","encoding":{
"x":{"field":"t","type":"quantitative","scale":{"domain":[0,179.5],"nice":false,"zero":false},"axis":{"values":[0,30,61,92,120,151],"labelExpr":"['Nov22','Dec22','Jan23','Feb23','Mar23','Apr23'][indexof([0,30,61,92,120,151],datum.value)]","labelAngle":-90,"title":null,"gridColor":{"condition":{"test":"datum.value===0","value":"transparent"},"value":"#d3d3d3"}}},
"y":{"field":"v","type":"quantitative","scale":{"domain":[-5.95,14.05],"nice":false,"zero":false},"axis":{"values":[-5,0,5,10],"title":"Daily mean GST (°C)","titleX":-58,"titleY":111.5,"titleBaseline":"middle"}},
"color":{"field":"s","type":"nominal","scale":{"domain":["JC","NI","IN","CR","MO","SO"],"range":["#1b9e77","#d95f02","#7570b3","#e7298a","#66a61e","#e6ab02"]},"legend":{"title":"Station","orient":"none","legendX":-64,"legendY":556,"direction":"horizontal","symbolStrokeWidth":3.5}},
"strokeDash":{"datum":"GST / TDD","type":"nominal","scale":{"domain":["GST / TDD","Modeled radiation"],"range":[[1,0],[7,3]]},"legend":{"title":"Line type","orient":"none","legendX":567,"legendY":556,"direction":"horizontal","symbolStrokeWidth":3.5}}}},
{"data":{"name":"r"},"transform":[{"filter":"datum.p==1"}],"mark":"line","encoding":{
"x":{"field":"t","type":"quantitative","scale":{"domain":[0,179.5],"nice":false,"zero":false},"axis":{"values":[0,30,61,92,120,151],"labelExpr":"['Nov22','Dec22','Jan23','Feb23','Mar23','Apr23'][indexof([0,30,61,92,120,151],datum.value)]","labelAngle":-90,"title":null,"gridColor":{"condition":{"test":"datum.value===0","value":"transparent"},"value":"#d3d3d3"}}},
"y":{"field":"v","type":"quantitative","scale":{"domain":[0,9010],"nice":false,"zero":false},"axis":{"orient":"right","values":[0,2000,4000,6000,8000],"labels":false,"title":null,"gridColor":{"condition":{"test":"datum.value===0","value":"transparent"},"value":"#d3d3d3"}}},
"color":{"field":"s","type":"nominal","scale":{"domain":["JC","NI","IN","CR","MO","SO"],"range":["#1b9e77","#d95f02","#7570b3","#e7298a","#66a61e","#e6ab02"]},"legend":{"title":"Station","orient":"none","legendX":-64,"legendY":556,"direction":"horizontal","symbolStrokeWidth":3.5}},
"strokeDash":{"datum":"Modeled radiation","type":"nominal","scale":{"domain":["GST / TDD","Modeled radiation"],"range":[[1,0],[7,3]]},"legend":{"title":"Line type","orient":"none","legendX":567,"legendY":556,"direction":"horizontal","symbolStrokeWidth":3.5}}}}
],"resolve":{"scale":{"y":"independent"}}},
{"width":299,"height":223,
"layer":[
{"data":{"name":"g"},"transform":[{"filter":"datum.p==2"}],"mark":"line","encoding":{
"x":{"field":"t","type":"quantitative","scale":{"domain":[0,179.5],"nice":false,"zero":false},"axis":{"values":[0,30,61,92,121,152],"labelExpr":"['Nov23','Dec23','Jan24','Feb24','Mar24','Apr24'][indexof([0,30,61,92,121,152],datum.value)]","labelAngle":-90,"title":null,"gridColor":{"condition":{"test":"datum.value===0","value":"transparent"},"value":"#d3d3d3"}}},
"y":{"field":"v","type":"quantitative","scale":{"domain":[-5.95,14.05],"nice":false,"zero":false},"axis":{"values":[-5,0,5,10],"labels":false,"title":null}},
"color":{"field":"s","type":"nominal","scale":{"domain":["JC","NI","IN","CR","MO","SO"],"range":["#1b9e77","#d95f02","#7570b3","#e7298a","#66a61e","#e6ab02"]},"legend":{"title":"Station","orient":"none","legendX":-64,"legendY":556,"direction":"horizontal","symbolStrokeWidth":3.5}},
"strokeDash":{"datum":"GST / TDD","type":"nominal","scale":{"domain":["GST / TDD","Modeled radiation"],"range":[[1,0],[7,3]]},"legend":{"title":"Line type","orient":"none","legendX":567,"legendY":556,"direction":"horizontal","symbolStrokeWidth":3.5}}}},
{"data":{"name":"r"},"transform":[{"filter":"datum.p==2"}],"mark":"line","encoding":{
"x":{"field":"t","type":"quantitative","scale":{"domain":[0,179.5],"nice":false,"zero":false},"axis":{"values":[0,30,61,92,121,152],"labelExpr":"['Nov23','Dec23','Jan24','Feb24','Mar24','Apr24'][indexof([0,30,61,92,121,152],datum.value)]","labelAngle":-90,"title":null,"gridColor":{"condition":{"test":"datum.value===0","value":"transparent"},"value":"#d3d3d3"}}},
"y":{"field":"v","type":"quantitative","scale":{"domain":[0,9010],"nice":false,"zero":false},"axis":{"orient":"right","values":[0,2000,4000,6000,8000],"labels":false,"title":null,"gridColor":{"condition":{"test":"datum.value===0","value":"transparent"},"value":"#d3d3d3"}}},
"color":{"field":"s","type":"nominal","scale":{"domain":["JC","NI","IN","CR","MO","SO"],"range":["#1b9e77","#d95f02","#7570b3","#e7298a","#66a61e","#e6ab02"]},"legend":{"title":"Station","orient":"none","legendX":-64,"legendY":556,"direction":"horizontal","symbolStrokeWidth":3.5}},
"strokeDash":{"datum":"Modeled radiation","type":"nominal","scale":{"domain":["GST / TDD","Modeled radiation"],"range":[[1,0],[7,3]]},"legend":{"title":"Line type","orient":"none","legendX":567,"legendY":556,"direction":"horizontal","symbolStrokeWidth":3.5}}}}
],"resolve":{"scale":{"y":"independent"}}},
{"width":299,"height":223,
"layer":[
{"data":{"name":"g"},"transform":[{"filter":"datum.p==3"}],"mark":"line","encoding":{
"x":{"field":"t","type":"quantitative","scale":{"domain":[0,179.5],"nice":false,"zero":false},"axis":{"values":[0,30,61,92,120,151],"labelExpr":"['Nov24','Dec24','Jan25','Feb25','Mar25','Apr25'][indexof([0,30,61,92,120,151],datum.value)]","labelAngle":-90,"title":null,"gridColor":{"condition":{"test":"datum.value===0","value":"transparent"},"value":"#d3d3d3"}}},
"y":{"field":"v","type":"quantitative","scale":{"domain":[-5.95,14.05],"nice":false,"zero":false},"axis":{"values":[-5,0,5,10],"labels":false,"title":null}},
"color":{"field":"s","type":"nominal","scale":{"domain":["JC","NI","IN","CR","MO","SO"],"range":["#1b9e77","#d95f02","#7570b3","#e7298a","#66a61e","#e6ab02"]},"legend":{"title":"Station","orient":"none","legendX":-64,"legendY":556,"direction":"horizontal","symbolStrokeWidth":3.5}},
"strokeDash":{"datum":"GST / TDD","type":"nominal","scale":{"domain":["GST / TDD","Modeled radiation"],"range":[[1,0],[7,3]]},"legend":{"title":"Line type","orient":"none","legendX":567,"legendY":556,"direction":"horizontal","symbolStrokeWidth":3.5}}}},
{"data":{"name":"r"},"transform":[{"filter":"datum.p==3"}],"mark":"line","encoding":{
"x":{"field":"t","type":"quantitative","scale":{"domain":[0,179.5],"nice":false,"zero":false},"axis":{"values":[0,30,61,92,120,151],"labelExpr":"['Nov24','Dec24','Jan25','Feb25','Mar25','Apr25'][indexof([0,30,61,92,120,151],datum.value)]","labelAngle":-90,"title":null,"gridColor":{"condition":{"test":"datum.value===0","value":"transparent"},"value":"#d3d3d3"}}},
"y":{"field":"v","type":"quantitative","scale":{"domain":[0,9010],"nice":false,"zero":false},"axis":{"orient":"right","values":[0,2000,4000,6000,8000],"format":"d","title":["Daily modeled radiation","(Wh m⁻² d⁻¹)"],"titleAngle":270,"titleBaseline":"middle","titleAlign":"center","titleX":82,"titleY":111.5,"titleLineHeight":20,"gridColor":{"condition":{"test":"datum.value===0","value":"transparent"},"value":"#d3d3d3"}}},
"color":{"field":"s","type":"nominal","scale":{"domain":["JC","NI","IN","CR","MO","SO"],"range":["#1b9e77","#d95f02","#7570b3","#e7298a","#66a61e","#e6ab02"]},"legend":{"title":"Station","orient":"none","legendX":-64,"legendY":556,"direction":"horizontal","symbolStrokeWidth":3.5}},
"strokeDash":{"datum":"Modeled radiation","type":"nominal","scale":{"domain":["GST / TDD","Modeled radiation"],"range":[[1,0],[7,3]]},"legend":{"title":"Line type","orient":"none","legendX":567,"legendY":556,"direction":"horizontal","symbolStrokeWidth":3.5}}}}
],"resolve":{"scale":{"y":"independent"}}}
],
"config":{
"font":"DejaVu Sans",
"view":{"stroke":"#000","strokeWidth":1.5},
"axis":{"domain":false,"grid":true,"gridColor":"#d3d3d3","gridWidth":1.2,"tickColor":"#000","tickSize":7,"tickWidth":1.2,"labelFont":"DejaVu Sans","labelFontSize":14,"labelColor":"#000","labelPadding":9,"labelFlush":false,"labelOverlap":false,"titleFont":"DejaVu Sans","titleFontSize":18,"titleFontWeight":"normal","titleColor":"#000"},
"axisY":{"labelPadding":11},
"title":{"font":"DejaVu Sans","fontSize":16.5,"fontWeight":"normal","color":"#000"},
"legend":{"titleOrient":"left","titleAnchor":"middle","titleBaseline":"line-top","titleLineHeight":8,"symbolType":"stroke","symbolSize":1150,"symbolStrokeWidth":3.5,"symbolStrokeColor":"#000","labelFont":"DejaVu Sans","titleFont":"DejaVu Sans","labelFontSize":15,"titleFontSize":18,"titleFontWeight":"normal","columnPadding":16,"labelOffset":7,"titlePadding":13,"labelColor":"#000","titleColor":"#000"},
"line":{"strokeWidth":2,"color":"#000"}
}
}
